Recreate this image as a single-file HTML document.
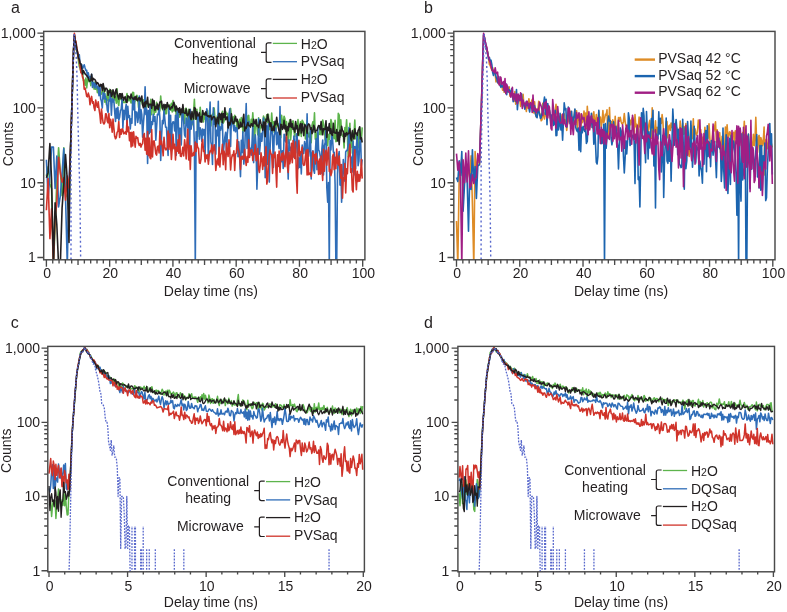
<!DOCTYPE html><html><head><meta charset="utf-8"><style>html,body{margin:0;padding:0;background:#fff;width:787px;height:612px;overflow:hidden}svg text{font-family:"Liberation Sans",sans-serif}</style></head><body><svg width="787" height="612" viewBox="0 0 787 612" style="position:absolute;left:0;top:0;will-change:transform" font-family='"Liberation Sans", sans-serif' fill="#231f20">
<rect width="787" height="612" fill="#fff"/>
<clipPath id="ca"><rect x="43.70" y="31.40" width="321.20" height="228.40"/></clipPath>
<clipPath id="cb"><rect x="453.80" y="31.40" width="321.20" height="228.40"/></clipPath>
<clipPath id="cc"><rect x="47.80" y="346.40" width="316.60" height="225.40"/></clipPath>
<clipPath id="cd"><rect x="457.90" y="346.40" width="316.60" height="225.40"/></clipPath>
<g clip-path="url(#ca)">
<polyline points="46.4,175.8 48.1,166.7 49.9,183.9 51.6,188.7 53.4,265.8 55.1,226.6 56.8,181.0 58.6,147.9 60.3,171.1 62.1,195.7 63.8,147.9 65.5,193.2 67.3,197.8 69.0,212.2 70.2,159.5 71.1,131.6 71.9,105.7 72.7,77.8 73.5,51.2 74.4,35.0 75.2,39.3 76.0,47.4 76.8,52.0 77.7,53.8 78.5,60.9 79.3,66.4 80.1,68.2 80.9,71.8 81.8,72.1 82.6,72.3 83.4,80.6 84.2,80.2 85.1,85.2 85.9,78.0 86.7,87.9 87.5,80.5 88.3,77.2 89.2,81.8 90.0,79.1 90.8,85.6 91.6,79.5 92.5,82.9 93.3,84.7 94.1,89.1 94.9,82.1 95.7,89.3 96.6,86.9 97.4,92.7 98.2,88.6 99.0,86.4 99.9,90.9 100.7,91.3 101.5,94.1 102.3,92.1 103.1,91.5 104.0,87.3 104.8,102.1 105.6,96.8 106.4,104.7 107.3,91.4 108.1,100.5 108.9,96.8 109.7,89.3 110.5,94.7 111.4,90.8 112.2,92.5 113.0,99.2 113.8,92.2 114.7,100.0 115.5,96.8 116.3,103.2 117.1,88.9 117.9,101.8 118.8,105.5 119.6,95.9 120.4,98.3 121.2,99.3 122.1,101.3 122.9,99.8 123.7,102.6 124.5,102.1 125.3,102.6 126.2,97.3 127.0,93.6 127.8,97.4 128.6,100.7 129.5,96.6 130.3,100.9 131.1,103.0 131.9,98.2 132.7,92.4 133.6,92.5 134.4,103.9 135.2,98.9 136.0,100.6 136.9,95.2 137.7,97.8 138.5,107.3 139.3,108.6 140.2,98.2 141.0,100.2 141.8,101.9 142.6,104.6 143.4,99.9 144.3,100.5 145.1,98.4 145.9,107.8 146.7,106.6 147.6,103.8 148.4,105.1 149.2,105.2 150.0,105.1 150.8,99.3 151.7,114.8 152.5,105.6 153.3,102.6 154.1,114.5 155.0,106.4 155.8,112.2 156.6,102.4 157.4,109.6 158.2,109.4 159.1,105.6 159.9,111.0 160.7,96.1 161.5,106.7 162.4,107.7 163.2,110.5 164.0,107.1 164.8,114.5 165.6,109.0 166.5,113.6 167.3,105.9 168.1,105.1 168.9,105.5 169.8,105.1 170.6,110.2 171.4,103.2 172.2,112.0 173.0,100.5 173.9,111.0 174.7,104.2 175.5,108.9 176.3,115.7 177.2,108.4 178.0,110.4 178.8,114.9 179.6,117.1 180.4,112.6 181.3,112.1 182.1,115.9 182.9,119.5 183.7,110.9 184.6,123.4 185.4,108.6 186.2,108.3 187.0,113.6 187.8,121.9 188.7,109.2 189.5,111.3 190.3,112.9 191.1,116.7 192.0,124.7 192.8,121.9 193.6,111.2 194.4,99.3 195.3,119.3 196.1,113.4 196.9,109.3 197.7,136.4 198.5,119.8 199.4,120.1 200.2,107.2 201.0,115.1 201.8,115.8 202.7,116.0 203.5,121.9 204.3,113.4 205.1,119.2 205.9,112.7 206.8,115.5 207.6,110.4 208.4,118.2 209.2,123.5 210.1,122.3 210.9,126.0 211.7,117.0 212.5,114.1 213.3,113.7 214.2,108.0 215.0,119.4 215.8,120.4 216.6,120.7 217.5,115.4 218.3,114.1 219.1,132.6 219.9,114.5 220.7,116.1 221.6,122.3 222.4,111.3 223.2,123.3 224.0,121.2 224.9,117.3 225.7,111.4 226.5,114.2 227.3,113.3 228.1,119.9 229.0,115.9 229.8,111.5 230.6,108.4 231.4,116.7 232.3,123.9 233.1,116.7 233.9,125.5 234.7,115.2 235.5,121.4 236.4,120.8 237.2,129.9 238.0,121.6 238.8,126.8 239.7,119.4 240.5,127.3 241.3,117.5 242.1,119.4 242.9,132.7 243.8,126.3 244.6,126.7 245.4,124.1 246.2,116.6 247.1,127.4 247.9,116.0 248.7,115.4 249.5,125.4 250.4,127.3 251.2,119.4 252.0,125.2 252.8,112.8 253.6,125.5 254.5,143.1 255.3,125.0 256.1,119.4 256.9,126.7 257.8,134.8 258.6,117.8 259.4,136.4 260.2,125.7 261.0,127.8 261.9,126.7 262.7,122.9 263.5,116.1 264.3,118.2 265.2,120.9 266.0,119.9 266.8,114.7 267.6,122.4 268.4,114.4 269.3,128.5 270.1,129.9 270.9,126.7 271.7,113.1 272.6,126.5 273.4,121.9 274.2,132.4 275.0,123.0 275.8,131.1 276.7,123.4 277.5,124.9 278.3,124.1 279.1,130.0 280.0,125.3 280.8,137.6 281.6,115.4 282.4,124.8 283.2,122.0 284.1,116.2 284.9,118.7 285.7,131.3 286.5,121.5 287.4,131.4 288.2,143.1 289.0,124.1 289.8,119.9 290.6,140.0 291.5,129.4 292.3,121.4 293.1,120.9 293.9,130.9 294.8,136.6 295.6,123.1 296.4,126.3 297.2,125.4 298.0,119.6 298.9,135.8 299.7,133.3 300.5,121.7 301.3,136.5 302.2,120.2 303.0,121.6 303.8,124.1 304.6,124.1 305.4,138.9 306.3,130.3 307.1,120.9 307.9,136.7 308.7,133.3 309.6,137.8 310.4,128.5 311.2,142.8 312.0,125.5 312.9,121.7 313.7,128.5 314.5,112.9 315.3,139.3 316.1,132.9 317.0,154.0 317.8,137.3 318.6,133.0 319.4,134.4 320.3,127.5 321.1,134.8 321.9,129.9 322.7,120.0 323.5,124.0 324.4,128.6 325.2,140.0 326.0,131.0 326.8,136.6 327.7,145.7 328.5,134.2 329.3,139.3 330.1,134.2 330.9,119.5 331.8,123.0 332.6,137.8 333.4,136.5 334.2,138.8 335.1,120.2 335.9,141.6 336.7,141.0 337.5,134.8 338.3,113.3 339.2,115.1 340.0,137.1 340.8,119.8 341.6,133.6 342.5,136.1 343.3,135.1 344.1,148.0 344.9,127.5 345.7,132.2 346.6,119.8 347.4,135.9 348.2,156.6 349.0,136.0 349.9,123.3 350.7,153.1 351.5,133.0 352.3,147.4 353.1,130.1 354.0,135.3 354.8,120.1 355.6,138.6 356.4,136.7 357.3,146.8 358.1,148.0 358.9,134.2 359.7,127.6 360.5,142.0 361.4,139.4 362.2,127.4" fill="none" stroke="#5db44c" stroke-width="1.6" stroke-linejoin="round" />
<polyline points="46.4,159.8 48.1,198.4 49.9,174.9 51.6,147.0 53.4,147.1 55.1,188.5 56.8,156.1 58.6,206.9 60.3,196.1 62.1,173.0 63.8,148.6 65.5,195.9 67.3,265.8 69.0,179.5 70.2,156.6 71.1,131.0 71.9,103.9 72.7,78.3 73.5,51.9 74.4,34.6 75.2,41.8 76.0,48.9 76.8,50.3 77.7,54.6 78.5,56.5 79.3,54.8 80.1,65.1 80.9,64.1 81.8,64.7 82.6,68.8 83.4,66.7 84.2,64.8 85.1,67.9 85.9,70.4 86.7,70.3 87.5,77.5 88.3,72.9 89.2,78.3 90.0,76.6 90.8,78.4 91.6,74.4 92.5,87.5 93.3,82.4 94.1,83.3 94.9,87.9 95.7,83.2 96.6,84.7 97.4,88.5 98.2,86.5 99.0,95.7 99.9,86.0 100.7,98.7 101.5,101.6 102.3,108.0 103.1,92.7 104.0,98.6 104.8,93.5 105.6,99.2 106.4,99.1 107.3,109.9 108.1,112.4 108.9,99.7 109.7,101.0 110.5,92.9 111.4,115.2 112.2,98.8 113.0,102.0 113.8,99.6 114.7,112.0 115.5,121.5 116.3,108.2 117.1,118.3 117.9,107.4 118.8,120.2 119.6,117.4 120.4,110.7 121.2,109.3 122.1,99.0 122.9,128.3 123.7,110.2 124.5,119.4 125.3,110.1 126.2,104.4 127.0,123.8 127.8,106.2 128.6,117.4 129.5,115.7 130.3,128.9 131.1,118.8 131.9,123.1 132.7,97.7 133.6,109.7 134.4,97.8 135.2,125.3 136.0,111.9 136.9,112.2 137.7,122.5 138.5,117.1 139.3,96.0 140.2,123.6 141.0,109.6 141.8,114.7 142.6,137.1 143.4,123.6 144.3,112.5 145.1,86.8 145.9,114.6 146.7,109.1 147.6,163.4 148.4,110.5 149.2,133.7 150.0,105.8 150.8,132.2 151.7,121.9 152.5,124.5 153.3,114.3 154.1,121.1 155.0,116.6 155.8,140.3 156.6,127.6 157.4,114.3 158.2,114.6 159.1,107.9 159.9,118.1 160.7,160.5 161.5,137.6 162.4,120.5 163.2,123.8 164.0,109.6 164.8,118.9 165.6,127.2 166.5,127.3 167.3,143.9 168.1,155.5 168.9,108.0 169.8,143.0 170.6,115.2 171.4,150.4 172.2,124.2 173.0,121.8 173.9,122.3 174.7,131.0 175.5,115.2 176.3,155.2 177.2,111.0 178.0,111.8 178.8,139.6 179.6,128.4 180.4,128.3 181.3,144.9 182.1,110.8 182.9,112.7 183.7,122.1 184.6,135.0 185.4,136.9 186.2,118.0 187.0,122.3 187.8,127.9 188.7,115.1 189.5,159.4 190.3,109.4 191.1,129.2 192.0,122.1 192.8,121.9 193.6,120.0 194.4,145.0 195.3,265.8 196.1,131.7 196.9,147.5 197.7,114.9 198.5,115.3 199.4,139.2 200.2,127.7 201.0,129.9 201.8,141.5 202.7,129.1 203.5,135.0 204.3,129.6 205.1,155.3 205.9,116.2 206.8,108.8 207.6,123.0 208.4,161.1 209.2,123.9 210.1,102.0 210.9,142.0 211.7,146.0 212.5,164.5 213.3,107.8 214.2,124.1 215.0,118.6 215.8,154.3 216.6,130.4 217.5,135.7 218.3,101.2 219.1,163.1 219.9,126.7 220.7,130.1 221.6,125.7 222.4,120.9 223.2,153.4 224.0,145.7 224.9,136.9 225.7,132.2 226.5,153.7 227.3,134.7 228.1,126.4 229.0,114.5 229.8,108.9 230.6,146.6 231.4,117.9 232.3,119.3 233.1,124.7 233.9,130.7 234.7,125.5 235.5,131.8 236.4,127.6 237.2,128.5 238.0,156.7 238.8,141.9 239.7,158.5 240.5,176.6 241.3,140.2 242.1,152.5 242.9,131.9 243.8,164.1 244.6,155.0 245.4,128.1 246.2,103.5 247.1,148.4 247.9,138.8 248.7,121.6 249.5,149.3 250.4,148.4 251.2,155.2 252.0,143.4 252.8,124.8 253.6,162.6 254.5,142.0 255.3,134.9 256.1,146.0 256.9,189.3 257.8,163.3 258.6,118.9 259.4,154.3 260.2,145.1 261.0,133.4 261.9,141.3 262.7,130.7 263.5,118.0 264.3,128.0 265.2,177.7 266.0,159.6 266.8,125.7 267.6,164.4 268.4,123.5 269.3,182.1 270.1,148.5 270.9,129.4 271.7,124.5 272.6,136.9 273.4,167.5 274.2,135.7 275.0,131.6 275.8,128.0 276.7,144.6 277.5,132.4 278.3,142.7 279.1,148.7 280.0,106.5 280.8,149.7 281.6,161.7 282.4,150.7 283.2,168.5 284.1,134.2 284.9,135.3 285.7,141.9 286.5,137.5 287.4,152.5 288.2,179.1 289.0,139.9 289.8,150.5 290.6,147.2 291.5,154.4 292.3,145.0 293.1,157.3 293.9,136.1 294.8,146.4 295.6,153.0 296.4,133.7 297.2,136.2 298.0,168.7 298.9,158.1 299.7,167.4 300.5,151.7 301.3,173.9 302.2,145.1 303.0,153.5 303.8,153.4 304.6,141.5 305.4,145.8 306.3,160.0 307.1,113.9 307.9,148.8 308.7,156.1 309.6,147.0 310.4,129.6 311.2,178.9 312.0,154.2 312.9,150.8 313.7,170.0 314.5,173.3 315.3,153.0 316.1,138.7 317.0,169.8 317.8,127.6 318.6,149.9 319.4,151.4 320.3,156.5 321.1,173.5 321.9,148.9 322.7,140.0 323.5,175.0 324.4,145.6 325.2,142.5 326.0,128.9 326.8,187.2 327.7,202.3 328.5,182.5 329.3,265.8 330.1,140.5 330.9,149.9 331.8,133.3 332.6,139.7 333.4,152.2 334.2,152.2 335.1,184.5 335.9,265.8 336.7,265.8 337.5,173.9 338.3,157.0 339.2,151.5 340.0,185.1 340.8,164.8 341.6,202.2 342.5,179.7 343.3,159.5 344.1,170.4 344.9,181.1 345.7,152.0 346.6,150.4 347.4,150.5 348.2,142.9 349.0,127.6 349.9,152.2 350.7,158.1 351.5,157.3 352.3,171.9 353.1,141.0 354.0,175.0 354.8,146.6 355.6,168.6 356.4,145.7 357.3,134.2 358.1,165.7 358.9,161.1 359.7,142.8 360.5,136.8 361.4,165.5 362.2,159.3" fill="none" stroke="#2f6db8" stroke-width="1.6" stroke-linejoin="round" />
<polyline points="46.4,210.2 48.1,178.6 49.9,238.6 51.6,208.8 53.4,265.8 55.1,216.0 56.8,204.3 58.6,157.2 60.3,172.5 62.1,182.2 63.8,177.7 65.5,200.1 67.3,176.0 69.0,188.5 70.2,159.3 71.1,131.7 71.9,104.7 72.7,77.6 73.5,51.4 74.4,33.3 75.2,39.7 76.0,41.6 76.8,47.6 77.7,52.3 78.5,58.3 79.3,60.6 80.1,66.1 80.9,72.7 81.8,73.1 82.6,77.3 83.4,79.0 84.2,89.2 85.1,88.1 85.9,91.8 86.7,96.4 87.5,96.9 88.3,93.1 89.2,96.2 90.0,104.8 90.8,99.5 91.6,96.4 92.5,103.2 93.3,101.8 94.1,107.8 94.9,110.4 95.7,100.1 96.6,105.0 97.4,107.2 98.2,101.9 99.0,109.0 99.9,114.7 100.7,123.1 101.5,109.0 102.3,116.8 103.1,122.5 104.0,124.0 104.8,122.3 105.6,113.8 106.4,114.1 107.3,121.2 108.1,122.8 108.9,113.5 109.7,127.8 110.5,119.2 111.4,123.6 112.2,132.1 113.0,119.0 113.8,127.4 114.7,136.3 115.5,138.8 116.3,137.5 117.1,132.4 117.9,131.2 118.8,121.6 119.6,137.5 120.4,129.5 121.2,134.2 122.1,128.9 122.9,129.8 123.7,133.8 124.5,133.1 125.3,131.8 126.2,134.2 127.0,120.6 127.8,131.8 128.6,127.1 129.5,140.7 130.3,132.5 131.1,147.0 131.9,132.4 132.7,146.0 133.6,131.9 134.4,140.7 135.2,147.2 136.0,136.3 136.9,138.1 137.7,137.7 138.5,143.3 139.3,145.5 140.2,143.4 141.0,147.1 141.8,144.5 142.6,143.7 143.4,135.5 144.3,133.5 145.1,150.2 145.9,138.4 146.7,154.1 147.6,131.5 148.4,155.8 149.2,138.1 150.0,157.8 150.8,158.7 151.7,129.6 152.5,156.9 153.3,141.6 154.1,140.8 155.0,146.8 155.8,153.6 156.6,155.1 157.4,147.1 158.2,146.1 159.1,152.9 159.9,131.3 160.7,144.4 161.5,141.0 162.4,147.4 163.2,155.8 164.0,137.3 164.8,146.9 165.6,149.8 166.5,149.6 167.3,147.0 168.1,131.1 168.9,149.5 169.8,134.0 170.6,145.5 171.4,159.4 172.2,148.6 173.0,134.3 173.9,148.6 174.7,144.2 175.5,159.9 176.3,147.1 177.2,151.3 178.0,139.8 178.8,153.2 179.6,135.1 180.4,156.0 181.3,156.5 182.1,152.4 182.9,147.2 183.7,155.9 184.6,139.7 185.4,147.2 186.2,159.0 187.0,142.0 187.8,129.1 188.7,159.9 189.5,145.6 190.3,169.4 191.1,145.8 192.0,155.9 192.8,155.7 193.6,152.6 194.4,155.2 195.3,142.0 196.1,151.5 196.9,143.5 197.7,147.5 198.5,148.3 199.4,163.0 200.2,163.4 201.0,159.0 201.8,144.7 202.7,139.2 203.5,151.4 204.3,150.6 205.1,162.0 205.9,154.7 206.8,158.4 207.6,154.9 208.4,164.1 209.2,155.0 210.1,150.9 210.9,151.7 211.7,145.1 212.5,153.8 213.3,150.0 214.2,144.7 215.0,151.2 215.8,170.5 216.6,162.9 217.5,159.0 218.3,165.0 219.1,147.3 219.9,167.0 220.7,154.5 221.6,153.0 222.4,144.2 223.2,164.8 224.0,151.0 224.9,155.5 225.7,169.7 226.5,143.3 227.3,151.7 228.1,156.5 229.0,139.9 229.8,151.6 230.6,170.0 231.4,159.4 232.3,154.7 233.1,155.7 233.9,150.7 234.7,170.4 235.5,154.4 236.4,152.9 237.2,139.8 238.0,148.5 238.8,150.8 239.7,157.3 240.5,169.4 241.3,157.1 242.1,156.2 242.9,159.3 243.8,157.6 244.6,149.3 245.4,158.3 246.2,165.4 247.1,156.5 247.9,162.1 248.7,139.9 249.5,157.5 250.4,151.8 251.2,149.7 252.0,149.8 252.8,160.5 253.6,153.0 254.5,154.2 255.3,144.5 256.1,160.8 256.9,157.8 257.8,148.6 258.6,169.0 259.4,172.4 260.2,165.5 261.0,152.8 261.9,159.6 262.7,169.5 263.5,156.9 264.3,165.9 265.2,157.3 266.0,146.7 266.8,184.1 267.6,180.3 268.4,166.2 269.3,154.9 270.1,150.0 270.9,153.9 271.7,154.2 272.6,173.4 273.4,154.5 274.2,157.6 275.0,152.1 275.8,167.8 276.7,187.1 277.5,154.9 278.3,166.5 279.1,151.1 280.0,172.1 280.8,158.1 281.6,153.8 282.4,160.2 283.2,152.3 284.1,155.9 284.9,166.6 285.7,156.2 286.5,133.9 287.4,166.3 288.2,172.5 289.0,152.3 289.8,163.7 290.6,158.8 291.5,143.2 292.3,162.7 293.1,140.6 293.9,155.3 294.8,158.5 295.6,142.0 296.4,177.3 297.2,193.3 298.0,152.6 298.9,140.2 299.7,155.9 300.5,152.5 301.3,152.4 302.2,147.1 303.0,163.6 303.8,165.3 304.6,164.9 305.4,156.3 306.3,150.0 307.1,175.0 307.9,149.5 308.7,174.8 309.6,173.9 310.4,172.8 311.2,176.4 312.0,167.7 312.9,151.2 313.7,156.3 314.5,154.7 315.3,164.0 316.1,153.6 317.0,160.4 317.8,161.1 318.6,174.5 319.4,159.1 320.3,174.2 321.1,156.1 321.9,168.5 322.7,180.4 323.5,149.3 324.4,171.2 325.2,155.7 326.0,150.3 326.8,165.1 327.7,153.9 328.5,147.2 329.3,171.5 330.1,169.4 330.9,175.6 331.8,172.1 332.6,156.2 333.4,154.0 334.2,169.6 335.1,157.3 335.9,168.7 336.7,149.1 337.5,162.6 338.3,165.1 339.2,156.0 340.0,168.2 340.8,178.1 341.6,164.5 342.5,198.1 343.3,177.9 344.1,178.9 344.9,163.6 345.7,192.9 346.6,168.7 347.4,173.7 348.2,157.5 349.0,154.7 349.9,144.3 350.7,172.5 351.5,168.8 352.3,189.9 353.1,192.0 354.0,163.7 354.8,149.9 355.6,176.6 356.4,189.8 357.3,171.4 358.1,181.4 358.9,174.6 359.7,181.2 360.5,175.2 361.4,159.4 362.2,178.6" fill="none" stroke="#d0332a" stroke-width="1.6" stroke-linejoin="round" />
<polyline points="46.4,177.8 48.1,172.4 49.9,143.5 51.6,180.2 53.4,265.8 55.1,202.9 56.8,224.2 58.6,265.8 60.3,265.8 62.1,207.6 63.8,184.3 65.5,154.6 67.3,180.1 69.0,242.5 70.2,158.3 71.1,131.9 71.9,103.9 72.7,79.2 73.5,50.9 74.4,35.5 75.2,40.6 76.0,44.2 76.8,48.7 77.7,52.8 78.5,58.4 79.3,59.3 80.1,63.3 80.9,63.9 81.8,68.5 82.6,74.0 83.4,70.5 84.2,72.1 85.1,73.9 85.9,74.7 86.7,75.5 87.5,76.8 88.3,77.7 89.2,80.9 90.0,81.2 90.8,80.5 91.6,74.3 92.5,80.9 93.3,78.4 94.1,79.3 94.9,79.5 95.7,81.1 96.6,83.9 97.4,82.7 98.2,83.3 99.0,85.5 99.9,86.5 100.7,84.4 101.5,84.7 102.3,90.6 103.1,83.5 104.0,88.1 104.8,91.4 105.6,88.4 106.4,88.2 107.3,89.7 108.1,95.3 108.9,90.9 109.7,92.4 110.5,89.9 111.4,96.7 112.2,94.7 113.0,89.8 113.8,93.5 114.7,97.6 115.5,91.4 116.3,89.1 117.1,93.3 117.9,96.2 118.8,99.1 119.6,93.7 120.4,93.9 121.2,98.8 122.1,93.5 122.9,97.4 123.7,100.3 124.5,97.3 125.3,96.9 126.2,101.9 127.0,102.5 127.8,95.8 128.6,96.6 129.5,97.1 130.3,98.8 131.1,94.1 131.9,97.7 132.7,98.3 133.6,99.6 134.4,97.0 135.2,99.3 136.0,96.3 136.9,100.0 137.7,100.8 138.5,98.1 139.3,97.6 140.2,100.9 141.0,98.8 141.8,96.1 142.6,104.9 143.4,107.7 144.3,102.3 145.1,106.7 145.9,101.2 146.7,103.7 147.6,97.3 148.4,107.3 149.2,104.3 150.0,104.2 150.8,104.3 151.7,108.2 152.5,99.3 153.3,105.5 154.1,100.7 155.0,110.4 155.8,106.5 156.6,108.5 157.4,104.0 158.2,109.5 159.1,105.5 159.9,102.0 160.7,101.8 161.5,101.2 162.4,109.0 163.2,105.7 164.0,104.4 164.8,109.7 165.6,104.8 166.5,107.9 167.3,102.6 168.1,106.7 168.9,105.5 169.8,109.1 170.6,108.9 171.4,106.7 172.2,107.8 173.0,104.9 173.9,102.2 174.7,106.7 175.5,111.0 176.3,106.1 177.2,109.7 178.0,108.7 178.8,112.1 179.6,107.7 180.4,114.7 181.3,109.0 182.1,112.7 182.9,104.5 183.7,112.5 184.6,113.2 185.4,113.4 186.2,109.0 187.0,115.3 187.8,115.7 188.7,113.0 189.5,109.6 190.3,117.1 191.1,119.5 192.0,111.5 192.8,116.6 193.6,118.9 194.4,107.5 195.3,108.6 196.1,119.2 196.9,111.9 197.7,115.6 198.5,115.8 199.4,112.8 200.2,121.9 201.0,116.8 201.8,122.1 202.7,110.5 203.5,114.4 204.3,113.4 205.1,115.1 205.9,111.8 206.8,115.2 207.6,116.2 208.4,115.8 209.2,117.0 210.1,115.8 210.9,115.4 211.7,119.8 212.5,118.3 213.3,116.7 214.2,116.7 215.0,118.1 215.8,126.7 216.6,120.2 217.5,117.3 218.3,123.8 219.1,113.4 219.9,114.1 220.7,119.5 221.6,113.4 222.4,122.6 223.2,113.8 224.0,117.5 224.9,107.7 225.7,119.7 226.5,117.5 227.3,117.0 228.1,128.0 229.0,122.4 229.8,125.0 230.6,122.8 231.4,113.9 232.3,120.9 233.1,123.5 233.9,123.0 234.7,119.4 235.5,116.5 236.4,121.5 237.2,119.2 238.0,122.8 238.8,128.6 239.7,127.0 240.5,122.4 241.3,126.5 242.1,126.7 242.9,119.9 243.8,114.2 244.6,131.0 245.4,127.2 246.2,128.3 247.1,124.7 247.9,122.6 248.7,125.6 249.5,125.6 250.4,126.8 251.2,123.7 252.0,124.2 252.8,126.3 253.6,119.3 254.5,123.0 255.3,124.0 256.1,119.7 256.9,125.9 257.8,125.4 258.6,127.6 259.4,122.8 260.2,119.8 261.0,123.7 261.9,126.1 262.7,130.2 263.5,122.1 264.3,122.1 265.2,136.7 266.0,119.3 266.8,121.1 267.6,114.3 268.4,118.6 269.3,122.2 270.1,126.5 270.9,122.7 271.7,130.4 272.6,130.4 273.4,126.4 274.2,130.7 275.0,121.2 275.8,124.7 276.7,117.3 277.5,123.8 278.3,127.1 279.1,131.3 280.0,134.6 280.8,124.4 281.6,124.8 282.4,129.4 283.2,128.0 284.1,120.4 284.9,128.9 285.7,125.4 286.5,134.9 287.4,126.9 288.2,130.7 289.0,123.2 289.8,126.7 290.6,119.5 291.5,127.4 292.3,123.7 293.1,129.3 293.9,128.1 294.8,132.1 295.6,121.6 296.4,128.6 297.2,125.5 298.0,135.3 298.9,131.2 299.7,125.8 300.5,123.6 301.3,133.0 302.2,123.9 303.0,129.3 303.8,135.7 304.6,124.7 305.4,125.1 306.3,127.6 307.1,133.4 307.9,125.2 308.7,123.9 309.6,125.0 310.4,129.2 311.2,127.8 312.0,133.7 312.9,131.9 313.7,125.2 314.5,127.6 315.3,132.3 316.1,130.5 317.0,130.4 317.8,127.8 318.6,125.6 319.4,125.7 320.3,129.7 321.1,121.5 321.9,128.9 322.7,134.8 323.5,128.6 324.4,129.6 325.2,129.3 326.0,120.8 326.8,137.4 327.7,127.4 328.5,130.5 329.3,123.6 330.1,133.4 330.9,128.8 331.8,134.9 332.6,135.3 333.4,123.3 334.2,132.5 335.1,133.0 335.9,133.1 336.7,129.6 337.5,141.0 338.3,132.3 339.2,144.7 340.0,130.2 340.8,135.1 341.6,126.4 342.5,130.8 343.3,131.3 344.1,141.9 344.9,133.2 345.7,136.2 346.6,132.6 347.4,134.7 348.2,133.5 349.0,133.2 349.9,128.8 350.7,138.5 351.5,140.8 352.3,130.9 353.1,135.9 354.0,139.0 354.8,128.8 355.6,133.7 356.4,133.0 357.3,135.4 358.1,130.6 358.9,129.0 359.7,126.8 360.5,138.9 361.4,137.9 362.2,142.5" fill="none" stroke="#231f20" stroke-width="1.6" stroke-linejoin="round" />
<polyline points="71.0,264.0 71.0,170.0 71.9,110.0 74.1,34.0 76.3,58.0 77.1,79.0 77.7,110.0 80.0,200.0 80.7,264.0" fill="none" stroke="#5868cc" stroke-width="1.4" stroke-dasharray="2,2.6"/>
</g>
<g clip-path="url(#cb)">
<polyline points="456.5,221.0 457.8,265.8 459.2,175.6 460.5,168.5 461.8,158.4 463.1,196.0 464.5,180.6 465.8,166.8 467.1,169.2 468.5,172.1 469.8,177.7 471.1,155.8 472.4,203.9 473.8,265.8 475.1,151.6 476.4,171.4 477.8,158.1 479.5,165.0 480.3,138.9 481.2,113.1 482.0,82.6 482.8,57.7 483.6,35.3 484.5,37.3 485.3,42.8 486.1,46.9 486.9,51.8 487.8,52.1 488.6,58.7 489.4,64.5 490.2,65.4 491.0,67.9 491.9,70.2 492.7,67.8 493.5,71.6 494.3,72.3 495.2,74.3 496.0,81.9 496.8,80.6 497.6,80.0 498.4,83.7 499.3,80.9 500.1,85.4 500.9,82.0 501.7,85.1 502.6,90.1 503.4,85.7 504.2,92.3 505.0,88.6 505.8,91.1 506.7,91.6 507.5,89.8 508.3,90.2 509.1,86.9 510.0,96.2 510.8,95.3 511.6,92.6 512.4,96.3 513.2,97.6 514.1,101.2 514.9,91.5 515.7,104.2 516.5,97.9 517.4,102.8 518.2,97.5 519.0,95.6 519.8,99.3 520.6,106.4 521.5,98.5 522.3,100.9 523.1,94.2 523.9,105.9 524.8,105.4 525.6,107.3 526.4,111.5 527.2,102.1 528.0,108.0 528.9,98.7 529.7,105.4 530.5,103.7 531.3,102.0 532.2,99.4 533.0,105.2 533.8,112.9 534.6,101.7 535.4,113.4 536.3,116.9 537.1,110.9 537.9,110.2 538.7,101.2 539.6,115.3 540.4,114.4 541.2,120.8 542.0,119.7 542.8,103.4 543.7,116.6 544.5,119.0 545.3,112.2 546.1,115.7 547.0,114.4 547.8,115.7 548.6,114.4 549.4,110.2 550.3,118.1 551.1,115.8 551.9,119.3 552.7,115.5 553.5,119.9 554.4,111.6 555.2,111.3 556.0,104.3 556.8,114.0 557.7,114.5 558.5,121.6 559.3,116.7 560.1,121.1 560.9,114.5 561.8,120.4 562.6,128.0 563.4,115.1 564.2,113.9 565.1,121.5 565.9,120.3 566.7,130.4 567.5,123.5 568.3,121.1 569.2,110.4 570.0,119.7 570.8,111.3 571.6,118.1 572.5,117.3 573.3,125.0 574.1,116.9 574.9,109.6 575.7,122.4 576.6,110.9 577.4,130.6 578.2,117.0 579.0,120.2 579.9,113.7 580.7,135.6 581.5,114.8 582.3,122.7 583.1,121.1 584.0,111.0 584.8,120.9 585.6,113.1 586.4,128.5 587.3,106.3 588.1,118.8 588.9,120.0 589.7,121.0 590.5,117.2 591.4,116.6 592.2,127.8 593.0,114.6 593.8,111.8 594.7,122.4 595.5,122.9 596.3,114.5 597.1,123.3 597.9,121.7 598.8,111.4 599.6,118.6 600.4,117.1 601.2,126.6 602.1,121.9 602.9,110.5 603.7,122.8 604.5,119.7 605.4,114.3 606.2,115.2 607.0,109.8 607.8,138.4 608.6,133.9 609.5,107.6 610.3,129.5 611.1,121.6 611.9,126.9 612.8,119.9 613.6,123.1 614.4,132.8 615.2,116.3 616.0,131.5 616.9,130.5 617.7,127.1 618.5,117.5 619.3,121.3 620.2,117.2 621.0,121.2 621.8,123.5 622.6,124.1 623.4,121.9 624.3,113.5 625.1,121.3 625.9,125.9 626.7,125.3 627.6,125.8 628.4,132.7 629.2,132.2 630.0,120.1 630.8,124.8 631.7,119.4 632.5,117.3 633.3,122.8 634.1,135.6 635.0,114.6 635.8,126.6 636.6,124.2 637.4,143.7 638.2,128.8 639.1,117.1 639.9,127.0 640.7,119.9 641.5,124.5 642.4,123.0 643.2,121.1 644.0,130.0 644.8,122.4 645.6,129.4 646.5,125.7 647.3,131.1 648.1,131.9 648.9,124.4 649.8,120.2 650.6,131.5 651.4,138.3 652.2,107.8 653.0,130.0 653.9,132.4 654.7,129.5 655.5,120.7 656.3,137.4 657.2,127.3 658.0,133.9 658.8,133.3 659.6,120.4 660.5,119.9 661.3,123.4 662.1,114.6 662.9,121.5 663.7,136.8 664.6,134.0 665.4,134.7 666.2,121.8 667.0,121.6 667.9,138.0 668.7,126.4 669.5,125.1 670.3,130.5 671.1,123.0 672.0,127.5 672.8,122.4 673.6,127.7 674.4,131.9 675.3,127.4 676.1,138.7 676.9,128.0 677.7,144.4 678.5,133.7 679.4,135.2 680.2,121.0 681.0,135.3 681.8,134.2 682.7,123.1 683.5,134.2 684.3,126.5 685.1,134.2 685.9,123.6 686.8,138.1 687.6,154.2 688.4,146.7 689.2,156.4 690.1,138.4 690.9,125.3 691.7,134.3 692.5,138.6 693.3,118.7 694.2,139.6 695.0,128.8 695.8,132.5 696.6,135.1 697.5,131.9 698.3,120.1 699.1,123.4 699.9,132.4 700.7,129.6 701.6,138.0 702.4,143.7 703.2,137.1 704.0,145.1 704.9,127.2 705.7,140.8 706.5,146.7 707.3,131.3 708.1,138.1 709.0,123.7 709.8,137.2 710.6,151.2 711.4,148.3 712.3,136.8 713.1,126.5 713.9,131.0 714.7,126.3 715.5,121.9 716.4,142.3 717.2,129.9 718.0,142.0 718.8,134.9 719.7,132.7 720.5,152.5 721.3,147.7 722.1,136.4 723.0,144.2 723.8,161.1 724.6,150.3 725.4,127.0 726.2,141.1 727.1,124.9 727.9,137.4 728.7,136.4 729.5,131.9 730.4,132.2 731.2,142.2 732.0,133.6 732.8,134.0 733.6,132.3 734.5,149.6 735.3,130.8 736.1,133.1 736.9,130.4 737.8,131.2 738.6,134.8 739.4,139.3 740.2,140.0 741.0,139.7 741.9,150.3 742.7,132.5 743.5,135.2 744.3,121.4 745.2,138.7 746.0,139.7 746.8,136.3 747.6,138.5 748.4,134.3 749.3,148.7 750.1,150.8 750.9,141.6 751.7,147.6 752.6,145.3 753.4,134.3 754.2,145.7 755.0,140.3 755.8,117.2 756.7,143.2 757.5,152.4 758.3,136.9 759.1,135.4 760.0,158.6 760.8,137.5 761.6,140.4 762.4,145.6 763.2,141.8 764.1,127.0 764.9,175.1 765.7,140.2 766.5,139.0 767.4,148.8 768.2,148.0 769.0,134.6 769.8,131.2 770.6,142.8 771.5,143.8 772.3,147.5" fill="none" stroke="#de8c26" stroke-width="1.6" stroke-linejoin="round" />
<polyline points="456.5,177.6 457.8,181.5 459.2,160.7 460.5,175.6 461.8,151.5 463.1,211.1 464.5,185.0 465.8,165.0 467.1,177.9 468.5,231.2 469.8,173.7 471.1,189.5 472.4,149.9 473.8,181.9 475.1,166.6 476.4,198.4 477.8,166.3 479.5,164.2 480.3,139.4 481.2,111.9 482.0,86.0 482.8,58.5 483.6,34.7 484.5,37.7 485.3,42.2 486.1,46.8 486.9,49.2 487.8,53.4 488.6,59.4 489.4,57.5 490.2,61.5 491.0,60.1 491.9,65.0 492.7,72.6 493.5,75.5 494.3,70.7 495.2,71.6 496.0,76.6 496.8,78.6 497.6,82.7 498.4,76.3 499.3,81.1 500.1,85.4 500.9,87.3 501.7,84.9 502.6,86.9 503.4,85.8 504.2,89.4 505.0,91.6 505.8,83.5 506.7,94.8 507.5,86.2 508.3,91.9 509.1,89.7 510.0,91.2 510.8,93.5 511.6,88.9 512.4,93.9 513.2,101.6 514.1,97.2 514.9,95.7 515.7,101.4 516.5,89.6 517.4,109.7 518.2,99.9 519.0,95.6 519.8,97.7 520.6,100.0 521.5,93.7 522.3,105.0 523.1,103.8 523.9,104.6 524.8,109.1 525.6,105.1 526.4,101.4 527.2,105.4 528.0,103.6 528.9,108.4 529.7,112.0 530.5,103.5 531.3,107.5 532.2,107.6 533.0,99.7 533.8,111.2 534.6,105.8 535.4,113.7 536.3,116.8 537.1,117.6 537.9,110.9 538.7,110.6 539.6,114.0 540.4,118.4 541.2,117.6 542.0,113.2 542.8,109.0 543.7,102.8 544.5,97.1 545.3,114.1 546.1,99.3 547.0,124.6 547.8,103.5 548.6,112.2 549.4,109.9 550.3,115.0 551.1,125.2 551.9,114.8 552.7,117.0 553.5,125.5 554.4,123.7 555.2,110.2 556.0,135.6 556.8,135.5 557.7,115.5 558.5,129.9 559.3,125.2 560.1,113.3 560.9,130.0 561.8,123.4 562.6,140.3 563.4,122.7 564.2,102.9 565.1,109.7 565.9,108.7 566.7,127.1 567.5,120.3 568.3,107.1 569.2,112.8 570.0,123.7 570.8,120.6 571.6,111.4 572.5,126.2 573.3,118.6 574.1,116.1 574.9,109.0 575.7,127.2 576.6,130.3 577.4,131.6 578.2,128.0 579.0,150.2 579.9,119.9 580.7,151.7 581.5,127.3 582.3,132.8 583.1,126.3 584.0,129.5 584.8,131.5 585.6,128.4 586.4,143.5 587.3,141.3 588.1,120.1 588.9,117.3 589.7,124.0 590.5,124.0 591.4,113.4 592.2,127.5 593.0,122.1 593.8,144.3 594.7,123.9 595.5,143.3 596.3,162.1 597.1,164.0 597.9,156.2 598.8,110.3 599.6,131.9 600.4,136.1 601.2,143.7 602.1,130.2 602.9,143.5 603.7,124.2 604.5,265.8 605.4,123.5 606.2,148.2 607.0,135.9 607.8,121.6 608.6,116.0 609.5,121.2 610.3,120.7 611.1,137.7 611.9,144.8 612.8,139.6 613.6,121.8 614.4,135.1 615.2,128.5 616.0,126.3 616.9,139.3 617.7,145.9 618.5,168.9 619.3,144.3 620.2,127.9 621.0,130.4 621.8,144.5 622.6,131.1 623.4,155.0 624.3,173.0 625.1,158.3 625.9,140.7 626.7,154.0 627.6,140.6 628.4,112.9 629.2,118.1 630.0,145.5 630.8,144.2 631.7,138.9 632.5,135.3 633.3,135.4 634.1,141.5 635.0,183.6 635.8,135.2 636.6,140.0 637.4,128.4 638.2,179.6 639.1,177.1 639.9,207.0 640.7,160.6 641.5,112.7 642.4,135.4 643.2,108.4 644.0,115.9 644.8,142.5 645.6,162.6 646.5,111.5 647.3,130.0 648.1,158.9 648.9,131.9 649.8,147.9 650.6,134.2 651.4,118.6 652.2,127.6 653.0,110.3 653.9,165.9 654.7,140.4 655.5,208.0 656.3,134.1 657.2,140.1 658.0,138.7 658.8,111.8 659.6,133.9 660.5,118.3 661.3,171.9 662.1,149.0 662.9,135.3 663.7,197.4 664.6,157.2 665.4,142.4 666.2,118.0 667.0,161.0 667.9,163.3 668.7,142.3 669.5,161.2 670.3,140.5 671.1,181.3 672.0,143.0 672.8,109.0 673.6,124.3 674.4,145.1 675.3,127.5 676.1,119.6 676.9,128.8 677.7,154.8 678.5,129.3 679.4,164.2 680.2,165.2 681.0,167.6 681.8,166.9 682.7,119.3 683.5,158.0 684.3,189.3 685.1,127.8 685.9,168.6 686.8,160.6 687.6,121.5 688.4,135.9 689.2,143.9 690.1,147.5 690.9,121.1 691.7,147.3 692.5,167.2 693.3,154.5 694.2,126.2 695.0,145.0 695.8,162.9 696.6,145.8 697.5,149.7 698.3,147.8 699.1,176.0 699.9,161.1 700.7,167.0 701.6,170.9 702.4,183.2 703.2,150.3 704.0,164.2 704.9,136.8 705.7,130.6 706.5,171.8 707.3,125.7 708.1,156.5 709.0,141.7 709.8,144.3 710.6,166.6 711.4,140.5 712.3,146.7 713.1,155.1 713.9,144.6 714.7,141.6 715.5,156.9 716.4,177.6 717.2,147.0 718.0,145.2 718.8,138.1 719.7,148.6 720.5,148.1 721.3,181.5 722.1,169.8 723.0,128.0 723.8,171.2 724.6,187.9 725.4,154.2 726.2,134.7 727.1,150.6 727.9,193.4 728.7,172.0 729.5,138.4 730.4,184.4 731.2,135.4 732.0,154.8 732.8,148.4 733.6,141.1 734.5,147.9 735.3,159.5 736.1,174.7 736.9,215.3 737.8,158.7 738.6,265.8 739.4,134.7 740.2,181.6 741.0,201.1 741.9,133.7 742.7,179.9 743.5,171.9 744.3,168.1 745.2,134.6 746.0,265.8 746.8,265.8 747.6,160.4 748.4,134.1 749.3,146.6 750.1,188.4 750.9,148.4 751.7,169.2 752.6,147.7 753.4,157.4 754.2,171.8 755.0,160.9 755.8,151.7 756.7,134.6 757.5,176.9 758.3,169.4 759.1,187.9 760.0,145.5 760.8,190.2 761.6,145.5 762.4,189.9 763.2,155.9 764.1,167.3 764.9,143.1 765.7,200.6 766.5,197.7 767.4,167.4 768.2,152.0 769.0,137.2 769.8,123.5 770.6,151.6 771.5,133.8 772.3,174.6" fill="none" stroke="#1b64af" stroke-width="1.6" stroke-linejoin="round" />
<polyline points="456.5,153.6 457.8,170.3 459.2,161.7 460.5,182.3 461.8,265.8 463.1,159.7 464.5,182.8 465.8,153.0 467.1,182.0 468.5,150.9 469.8,187.7 471.1,185.7 472.4,174.7 473.8,183.5 475.1,178.8 476.4,177.4 477.8,153.6 479.5,162.7 480.3,137.9 481.2,111.7 482.0,86.9 482.8,57.9 483.6,33.2 484.5,37.8 485.3,41.7 486.1,45.2 486.9,47.2 487.8,54.7 488.6,57.1 489.4,60.2 490.2,62.4 491.0,65.9 491.9,69.5 492.7,71.2 493.5,70.4 494.3,72.8 495.2,67.7 496.0,72.7 496.8,73.7 497.6,72.1 498.4,82.7 499.3,84.9 500.1,76.9 500.9,77.4 501.7,84.4 502.6,83.5 503.4,81.6 504.2,90.8 505.0,78.6 505.8,93.6 506.7,84.3 507.5,87.1 508.3,91.7 509.1,91.5 510.0,93.1 510.8,97.2 511.6,94.4 512.4,87.2 513.2,100.0 514.1,93.7 514.9,95.4 515.7,100.6 516.5,94.0 517.4,103.7 518.2,94.1 519.0,97.3 519.8,100.6 520.6,92.8 521.5,99.3 522.3,108.4 523.1,100.0 523.9,103.6 524.8,103.3 525.6,107.7 526.4,101.9 527.2,101.3 528.0,103.9 528.9,108.3 529.7,104.2 530.5,102.7 531.3,103.3 532.2,112.5 533.0,95.0 533.8,108.6 534.6,110.3 535.4,108.2 536.3,112.6 537.1,109.0 537.9,110.7 538.7,109.2 539.6,102.0 540.4,104.4 541.2,106.4 542.0,109.7 542.8,115.4 543.7,106.9 544.5,102.9 545.3,108.5 546.1,101.3 547.0,117.8 547.8,117.9 548.6,105.5 549.4,107.2 550.3,119.3 551.1,128.7 551.9,130.0 552.7,99.5 553.5,108.9 554.4,120.6 555.2,114.1 556.0,128.2 556.8,118.8 557.7,106.5 558.5,115.2 559.3,120.6 560.1,122.5 560.9,123.2 561.8,122.6 562.6,114.0 563.4,124.2 564.2,119.5 565.1,123.6 565.9,126.5 566.7,126.6 567.5,123.6 568.3,108.2 569.2,108.1 570.0,114.3 570.8,134.5 571.6,117.4 572.5,127.2 573.3,134.7 574.1,122.8 574.9,120.7 575.7,124.8 576.6,112.5 577.4,118.1 578.2,117.0 579.0,112.7 579.9,130.8 580.7,125.4 581.5,113.8 582.3,118.5 583.1,119.1 584.0,117.4 584.8,126.8 585.6,129.8 586.4,122.0 587.3,116.1 588.1,134.6 588.9,111.7 589.7,129.9 590.5,123.3 591.4,115.9 592.2,122.6 593.0,119.2 593.8,131.6 594.7,120.4 595.5,125.2 596.3,122.8 597.1,134.0 597.9,117.9 598.8,134.4 599.6,129.7 600.4,143.4 601.2,127.2 602.1,136.3 602.9,129.6 603.7,143.9 604.5,131.2 605.4,138.4 606.2,144.2 607.0,133.1 607.8,136.1 608.6,138.1 609.5,139.3 610.3,125.1 611.1,125.5 611.9,124.1 612.8,141.1 613.6,124.5 614.4,138.6 615.2,126.5 616.0,134.2 616.9,147.1 617.7,135.2 618.5,120.2 619.3,139.9 620.2,139.1 621.0,137.0 621.8,151.2 622.6,124.8 623.4,135.9 624.3,148.5 625.1,135.5 625.9,127.9 626.7,125.3 627.6,139.4 628.4,130.2 629.2,136.7 630.0,136.5 630.8,130.6 631.7,144.3 632.5,115.2 633.3,120.6 634.1,139.3 635.0,134.3 635.8,143.0 636.6,130.9 637.4,125.3 638.2,137.7 639.1,165.1 639.9,135.4 640.7,117.9 641.5,132.2 642.4,138.4 643.2,136.0 644.0,140.2 644.8,153.4 645.6,123.3 646.5,141.6 647.3,135.0 648.1,137.0 648.9,135.1 649.8,138.4 650.6,138.4 651.4,147.3 652.2,153.9 653.0,131.1 653.9,155.3 654.7,143.8 655.5,129.9 656.3,144.6 657.2,136.4 658.0,142.8 658.8,169.4 659.6,179.8 660.5,141.8 661.3,154.6 662.1,155.9 662.9,137.6 663.7,128.8 664.6,145.0 665.4,136.2 666.2,140.6 667.0,146.3 667.9,150.0 668.7,141.1 669.5,134.7 670.3,143.2 671.1,150.5 672.0,161.4 672.8,148.2 673.6,143.1 674.4,123.9 675.3,127.8 676.1,147.2 676.9,139.5 677.7,144.8 678.5,168.0 679.4,148.7 680.2,127.9 681.0,158.1 681.8,128.9 682.7,144.9 683.5,186.8 684.3,159.5 685.1,161.8 685.9,125.6 686.8,150.3 687.6,155.4 688.4,136.6 689.2,149.3 690.1,148.3 690.9,152.6 691.7,160.7 692.5,143.3 693.3,145.7 694.2,141.1 695.0,164.2 695.8,146.1 696.6,139.2 697.5,135.5 698.3,153.3 699.1,164.3 699.9,119.9 700.7,148.9 701.6,134.1 702.4,166.3 703.2,157.8 704.0,133.6 704.9,149.1 705.7,142.5 706.5,143.0 707.3,139.6 708.1,142.6 709.0,144.4 709.8,157.8 710.6,149.0 711.4,151.0 712.3,150.3 713.1,124.0 713.9,140.7 714.7,149.4 715.5,151.9 716.4,161.4 717.2,131.1 718.0,132.0 718.8,147.1 719.7,141.0 720.5,144.2 721.3,158.4 722.1,159.8 723.0,145.5 723.8,155.3 724.6,151.6 725.4,165.7 726.2,190.4 727.1,151.4 727.9,137.3 728.7,154.4 729.5,168.9 730.4,162.5 731.2,172.7 732.0,130.5 732.8,158.2 733.6,170.8 734.5,181.2 735.3,145.5 736.1,139.9 736.9,125.9 737.8,183.3 738.6,126.3 739.4,145.8 740.2,128.1 741.0,138.4 741.9,157.3 742.7,162.2 743.5,127.2 744.3,178.7 745.2,141.5 746.0,125.7 746.8,167.2 747.6,136.3 748.4,158.3 749.3,168.5 750.1,191.6 750.9,120.2 751.7,168.7 752.6,147.3 753.4,150.4 754.2,182.4 755.0,180.2 755.8,164.0 756.7,146.5 757.5,156.6 758.3,165.2 759.1,187.7 760.0,166.8 760.8,173.9 761.6,172.2 762.4,195.5 763.2,172.7 764.1,161.9 764.9,166.8 765.7,169.0 766.5,136.2 767.4,131.8 768.2,124.3 769.0,148.3 769.8,161.0 770.6,145.9 771.5,147.9 772.3,183.9" fill="none" stroke="#a01e84" stroke-width="1.6" stroke-linejoin="round" />
<polyline points="481.1,264.0 481.1,170.0 482.0,110.0 484.2,34.0 486.4,58.0 487.2,79.0 487.8,110.0 490.1,200.0 490.8,264.0" fill="none" stroke="#5868cc" stroke-width="1.4" stroke-dasharray="2,2.6"/>
</g>
<g clip-path="url(#cc)">
<polyline points="49.0,504.2 49.9,504.9 50.7,501.2 51.6,516.4 52.5,505.9 53.3,500.0 54.2,505.0 55.1,500.7 55.9,518.4 56.8,505.7 57.6,500.2 58.5,488.9 59.4,499.1 60.2,502.5 61.1,506.0 62.0,499.9 62.8,505.4 63.7,493.1 64.6,505.7 65.4,493.8 66.3,506.7 67.2,515.0 68.0,514.6 68.9,491.4 69.7,489.7 70.6,468.0 71.5,449.6 72.3,430.7 73.2,416.5 74.1,407.6 74.9,397.3 75.8,387.1 76.7,374.1 77.5,369.7 78.4,364.9 79.3,360.4 80.1,353.7 81.0,351.9 81.8,350.7 82.7,351.8 83.6,349.6 84.4,348.6 85.3,349.5 86.2,349.9 87.0,349.4 87.9,351.2 88.8,352.3 89.6,354.8 90.5,355.1 91.4,357.5 92.2,358.3 93.1,361.6 93.9,361.8 94.8,362.2 95.7,365.0 96.5,366.7 97.4,365.4 98.3,365.5 99.1,368.2 100.0,370.2 100.9,371.0 101.7,373.1 102.6,370.3 103.5,371.7 104.3,372.7 105.2,371.9 106.0,374.3 106.9,374.9 107.8,377.2 108.6,375.9 109.5,376.7 110.4,377.6 111.2,379.0 112.1,381.5 113.0,382.0 113.8,378.7 114.7,381.8 115.6,382.7 116.4,381.0 117.3,382.9 118.1,382.7 119.0,386.4 119.9,386.9 120.7,386.7 121.6,387.0 122.5,383.1 123.3,383.6 124.2,385.2 125.1,384.9 125.9,387.1 126.8,387.4 127.7,385.5 128.5,385.8 129.4,388.7 130.2,387.2 131.1,389.0 132.0,388.4 132.8,388.4 133.7,390.6 134.6,385.7 135.4,386.4 136.3,388.2 137.2,387.2 138.0,389.0 138.9,393.0 139.8,390.2 140.6,387.1 141.5,388.0 142.3,388.0 143.2,388.6 144.1,386.3 144.9,388.9 145.8,387.8 146.7,390.4 147.5,387.1 148.4,390.6 149.3,390.3 150.1,391.0 151.0,387.5 151.9,386.7 152.7,391.0 153.6,391.8 154.4,393.1 155.3,391.0 156.2,390.1 157.0,391.7 157.9,390.5 158.8,390.9 159.6,393.2 160.5,394.2 161.4,391.6 162.2,389.3 163.1,391.1 164.0,395.0 164.8,392.6 165.7,391.2 166.5,395.7 167.4,390.2 168.3,395.7 169.1,390.1 170.0,391.5 170.9,394.3 171.7,393.4 172.6,393.3 173.5,392.0 174.3,393.7 175.2,397.5 176.1,392.9 176.9,392.7 177.8,395.8 178.6,397.2 179.5,396.6 180.4,392.7 181.2,395.1 182.1,395.7 183.0,394.2 183.8,397.9 184.7,395.9 185.6,399.9 186.4,397.9 187.3,397.2 188.2,398.3 189.0,393.8 189.9,396.7 190.7,396.5 191.6,393.7 192.5,398.4 193.3,397.4 194.2,397.1 195.1,397.3 195.9,397.0 196.8,399.3 197.7,402.3 198.5,397.4 199.4,399.2 200.3,396.7 201.1,399.3 202.0,394.8 202.8,400.2 203.7,393.5 204.6,399.1 205.4,395.2 206.3,399.1 207.2,400.1 208.0,402.9 208.9,395.1 209.8,398.1 210.6,403.4 211.5,399.4 212.4,398.7 213.2,403.3 214.1,399.4 215.0,402.8 215.8,402.8 216.7,400.6 217.5,396.3 218.4,402.7 219.3,405.6 220.1,399.2 221.0,403.2 221.9,401.0 222.7,401.3 223.6,399.3 224.5,399.0 225.3,405.6 226.2,400.0 227.1,401.5 227.9,403.7 228.8,398.3 229.6,403.3 230.5,402.7 231.4,400.6 232.2,406.1 233.1,404.2 234.0,401.3 234.8,405.1 235.7,403.7 236.6,405.3 237.4,400.0 238.3,394.5 239.2,405.5 240.0,403.5 240.9,405.9 241.7,405.7 242.6,400.1 243.5,400.5 244.3,401.5 245.2,404.2 246.1,407.1 246.9,409.7 247.8,400.3 248.7,406.7 249.5,404.4 250.4,403.9 251.3,406.7 252.1,408.7 253.0,407.9 253.8,402.2 254.7,403.4 255.6,405.1 256.4,402.8 257.3,403.2 258.2,410.0 259.0,402.3 259.9,405.2 260.8,405.4 261.6,409.8 262.5,403.2 263.4,404.3 264.2,410.1 265.1,408.4 265.9,406.2 266.8,407.3 267.7,406.2 268.5,406.5 269.4,404.0 270.3,404.7 271.1,403.9 272.0,407.1 272.9,405.5 273.7,406.2 274.6,407.3 275.5,403.8 276.3,404.7 277.2,408.1 278.0,407.3 278.9,409.9 279.8,404.8 280.6,405.0 281.5,405.7 282.4,407.8 283.2,407.0 284.1,404.6 285.0,408.8 285.8,407.8 286.7,406.6 287.6,407.2 288.4,405.1 289.3,408.0 290.1,399.7 291.0,405.6 291.9,405.7 292.7,404.6 293.6,406.4 294.5,404.1 295.3,407.1 296.2,410.8 297.1,411.8 297.9,408.8 298.8,408.0 299.7,406.5 300.5,410.6 301.4,409.8 302.2,408.7 303.1,404.5 304.0,406.9 304.8,410.6 305.7,410.5 306.6,412.8 307.4,412.3 308.3,408.0 309.2,405.9 310.0,410.0 310.9,411.5 311.8,407.5 312.6,408.6 313.5,412.9 314.3,403.7 315.2,412.0 316.1,407.6 316.9,407.3 317.8,409.5 318.7,402.9 319.5,410.0 320.4,408.1 321.3,410.4 322.1,407.5 323.0,409.8 323.9,405.4 324.7,409.4 325.6,412.2 326.4,409.0 327.3,407.3 328.2,411.9 329.0,413.4 329.9,412.5 330.8,409.1 331.6,411.4 332.5,406.1 333.4,412.2 334.2,413.3 335.1,407.9 336.0,412.5 336.8,409.7 337.7,408.8 338.5,410.4 339.4,412.8 340.3,409.2 341.1,410.1 342.0,414.4 342.9,408.0 343.7,414.2 344.6,409.7 345.5,412.6 346.3,410.9 347.2,407.6 348.1,412.5 348.9,416.5 349.8,411.9 350.6,409.2 351.5,415.7 352.4,410.0 353.2,412.9 354.1,409.4 355.0,413.1 355.8,411.9 356.7,408.1 357.6,413.0 358.4,409.0 359.3,410.0 360.2,413.5 361.0,406.5 361.9,412.3 362.7,406.2" fill="none" stroke="#5db44c" stroke-width="1.5" stroke-linejoin="round" />
<polyline points="49.0,488.4 49.9,492.0 50.7,485.6 51.6,471.4 52.5,464.8 53.3,488.4 54.2,465.8 55.1,490.6 55.9,477.5 56.8,479.1 57.6,482.1 58.5,463.9 59.4,471.1 60.2,478.1 61.1,468.6 62.0,484.9 62.8,474.5 63.7,464.9 64.6,474.5 65.4,463.5 66.3,488.5 67.2,489.9 68.0,481.0 68.9,480.3 69.7,490.8 70.6,469.8 71.5,449.4 72.3,431.9 73.2,417.8 74.1,405.4 74.9,395.6 75.8,385.4 76.7,374.2 77.5,370.1 78.4,365.0 79.3,360.4 80.1,356.6 81.0,351.9 81.8,352.4 82.7,351.5 83.6,349.8 84.4,347.2 85.3,348.2 86.2,350.0 87.0,350.5 87.9,353.7 88.8,354.1 89.6,354.6 90.5,358.1 91.4,357.9 92.2,359.3 93.1,361.4 93.9,363.6 94.8,361.5 95.7,363.2 96.5,368.8 97.4,368.5 98.3,366.6 99.1,369.3 100.0,367.1 100.9,370.9 101.7,370.2 102.6,370.8 103.5,372.4 104.3,373.4 105.2,376.0 106.0,374.5 106.9,376.2 107.8,379.1 108.6,375.5 109.5,377.5 110.4,383.6 111.2,380.0 112.1,383.2 113.0,383.0 113.8,384.3 114.7,385.2 115.6,386.7 116.4,385.1 117.3,387.1 118.1,387.7 119.0,389.5 119.9,392.6 120.7,387.7 121.6,389.9 122.5,392.6 123.3,386.1 124.2,390.1 125.1,388.3 125.9,391.5 126.8,390.4 127.7,393.0 128.5,391.8 129.4,391.9 130.2,390.2 131.1,391.8 132.0,393.3 132.8,394.3 133.7,392.5 134.6,389.0 135.4,396.2 136.3,394.1 137.2,391.3 138.0,392.4 138.9,392.6 139.8,398.1 140.6,394.0 141.5,391.4 142.3,392.7 143.2,396.2 144.1,398.9 144.9,392.4 145.8,401.0 146.7,399.9 147.5,399.3 148.4,396.0 149.3,394.7 150.1,398.6 151.0,396.4 151.9,401.5 152.7,398.2 153.6,399.3 154.4,400.7 155.3,401.0 156.2,399.4 157.0,401.9 157.9,399.3 158.8,396.1 159.6,401.2 160.5,404.3 161.4,399.3 162.2,396.8 163.1,399.5 164.0,408.0 164.8,403.8 165.7,400.7 166.5,404.8 167.4,401.3 168.3,404.3 169.1,403.8 170.0,403.4 170.9,400.1 171.7,402.6 172.6,400.7 173.5,408.0 174.3,408.8 175.2,404.5 176.1,405.7 176.9,406.5 177.8,404.4 178.6,405.5 179.5,405.8 180.4,402.9 181.2,399.8 182.1,405.6 183.0,404.0 183.8,409.9 184.7,404.2 185.6,406.0 186.4,410.6 187.3,409.2 188.2,401.5 189.0,405.8 189.9,408.3 190.7,408.0 191.6,403.4 192.5,407.5 193.3,407.5 194.2,408.7 195.1,405.6 195.9,406.2 196.8,406.1 197.7,411.7 198.5,408.4 199.4,407.9 200.3,404.5 201.1,404.8 202.0,410.3 202.8,409.2 203.7,410.5 204.6,407.5 205.4,405.8 206.3,411.2 207.2,411.7 208.0,411.3 208.9,409.3 209.8,409.1 210.6,410.3 211.5,411.3 212.4,409.7 213.2,411.1 214.1,412.4 215.0,412.8 215.8,414.0 216.7,413.9 217.5,408.8 218.4,415.9 219.3,413.5 220.1,414.3 221.0,409.8 221.9,414.1 222.7,414.0 223.6,413.2 224.5,414.8 225.3,411.9 226.2,411.1 227.1,412.4 227.9,408.2 228.8,411.3 229.6,415.5 230.5,415.8 231.4,410.6 232.2,411.5 233.1,412.2 234.0,421.0 234.8,415.1 235.7,412.6 236.6,413.7 237.4,408.5 238.3,413.2 239.2,413.3 240.0,413.7 240.9,409.6 241.7,412.9 242.6,413.2 243.5,411.8 244.3,416.9 245.2,409.1 246.1,418.6 246.9,412.0 247.8,420.2 248.7,409.9 249.5,419.7 250.4,411.1 251.3,416.7 252.1,415.7 253.0,419.0 253.8,411.6 254.7,415.1 255.6,416.3 256.4,418.1 257.3,417.6 258.2,409.3 259.0,409.0 259.9,413.9 260.8,421.2 261.6,418.7 262.5,408.2 263.4,416.9 264.2,421.9 265.1,419.6 265.9,418.5 266.8,418.1 267.7,415.3 268.5,414.8 269.4,421.0 270.3,412.5 271.1,419.7 272.0,427.4 272.9,418.6 273.7,422.2 274.6,416.9 275.5,424.5 276.3,420.0 277.2,411.5 278.0,420.5 278.9,418.7 279.8,420.7 280.6,418.6 281.5,418.9 282.4,424.3 283.2,420.4 284.1,415.3 285.0,408.6 285.8,413.7 286.7,421.2 287.6,421.6 288.4,421.3 289.3,414.0 290.1,419.8 291.0,416.2 291.9,417.9 292.7,417.5 293.6,415.6 294.5,421.0 295.3,418.6 296.2,419.0 297.1,418.6 297.9,419.0 298.8,422.3 299.7,419.2 300.5,417.2 301.4,418.7 302.2,420.2 303.1,419.1 304.0,424.3 304.8,418.8 305.7,424.9 306.6,419.4 307.4,419.4 308.3,424.6 309.2,424.4 310.0,417.0 310.9,420.1 311.8,419.4 312.6,421.9 313.5,415.8 314.3,417.3 315.2,419.6 316.1,422.3 316.9,420.3 317.8,423.9 318.7,427.2 319.5,425.6 320.4,423.4 321.3,420.5 322.1,426.7 323.0,423.4 323.9,422.4 324.7,425.2 325.6,430.3 326.4,419.7 327.3,421.9 328.2,417.1 329.0,426.2 329.9,426.2 330.8,431.1 331.6,423.9 332.5,429.8 333.4,425.5 334.2,420.9 335.1,429.5 336.0,425.4 336.8,426.3 337.7,426.8 338.5,434.4 339.4,423.7 340.3,423.5 341.1,422.8 342.0,423.4 342.9,418.6 343.7,425.1 344.6,428.6 345.5,426.5 346.3,423.0 347.2,424.8 348.1,421.7 348.9,427.4 349.8,428.6 350.6,420.8 351.5,431.0 352.4,419.5 353.2,425.0 354.1,427.5 355.0,426.2 355.8,424.8 356.7,418.7 357.6,429.1 358.4,434.6 359.3,428.4 360.2,423.1 361.0,425.4 361.9,427.2 362.7,424.3" fill="none" stroke="#2f6db8" stroke-width="1.5" stroke-linejoin="round" />
<polyline points="49.0,473.7 49.9,465.9 50.7,458.5 51.6,471.5 52.5,475.5 53.3,461.0 54.2,465.9 55.1,479.6 55.9,464.3 56.8,475.5 57.6,470.0 58.5,465.5 59.4,477.7 60.2,474.2 61.1,468.0 62.0,486.6 62.8,476.2 63.7,490.1 64.6,470.6 65.4,474.4 66.3,482.8 67.2,479.9 68.0,489.6 68.9,474.2 69.7,489.9 70.6,468.7 71.5,448.3 72.3,430.6 73.2,418.8 74.1,406.1 74.9,395.3 75.8,385.1 76.7,374.5 77.5,368.9 78.4,363.4 79.3,358.8 80.1,355.8 81.0,352.9 81.8,352.1 82.7,349.9 83.6,349.3 84.4,348.2 85.3,348.0 86.2,350.7 87.0,350.0 87.9,351.6 88.8,353.2 89.6,354.7 90.5,356.9 91.4,358.3 92.2,358.8 93.1,361.3 93.9,359.8 94.8,361.7 95.7,363.9 96.5,366.0 97.4,365.0 98.3,368.2 99.1,368.5 100.0,372.8 100.9,371.0 101.7,374.1 102.6,373.0 103.5,375.0 104.3,377.5 105.2,374.5 106.0,377.5 106.9,378.9 107.8,378.0 108.6,380.0 109.5,379.9 110.4,380.4 111.2,380.1 112.1,380.3 113.0,385.8 113.8,381.9 114.7,382.6 115.6,386.8 116.4,381.8 117.3,389.3 118.1,386.8 119.0,389.7 119.9,386.7 120.7,387.8 121.6,387.6 122.5,387.5 123.3,393.3 124.2,390.0 125.1,387.9 125.9,391.2 126.8,391.1 127.7,395.7 128.5,390.0 129.4,390.6 130.2,389.6 131.1,393.7 132.0,391.5 132.8,390.5 133.7,394.9 134.6,396.7 135.4,397.6 136.3,390.4 137.2,397.8 138.0,396.1 138.9,398.3 139.8,396.8 140.6,395.4 141.5,396.8 142.3,396.8 143.2,403.0 144.1,402.8 144.9,400.5 145.8,404.0 146.7,399.7 147.5,403.7 148.4,402.7 149.3,403.3 150.1,404.8 151.0,401.9 151.9,403.1 152.7,400.6 153.6,401.1 154.4,405.3 155.3,405.0 156.2,406.3 157.0,408.0 157.9,407.4 158.8,407.2 159.6,407.1 160.5,406.3 161.4,407.2 162.2,408.7 163.1,412.1 164.0,408.7 164.8,408.8 165.7,409.0 166.5,409.0 167.4,409.6 168.3,405.5 169.1,415.6 170.0,413.2 170.9,414.5 171.7,413.2 172.6,413.0 173.5,411.2 174.3,418.5 175.2,414.8 176.1,411.9 176.9,415.7 177.8,415.8 178.6,415.8 179.5,420.2 180.4,415.0 181.2,407.0 182.1,415.6 183.0,415.3 183.8,419.6 184.7,412.2 185.6,418.5 186.4,415.1 187.3,415.7 188.2,417.8 189.0,416.9 189.9,420.7 190.7,420.7 191.6,423.3 192.5,422.6 193.3,418.1 194.2,413.7 195.1,424.3 195.9,417.9 196.8,420.2 197.7,418.1 198.5,423.5 199.4,421.3 200.3,415.9 201.1,420.8 202.0,423.7 202.8,422.3 203.7,420.7 204.6,419.4 205.4,419.7 206.3,425.8 207.2,413.4 208.0,421.5 208.9,416.4 209.8,423.9 210.6,425.8 211.5,423.6 212.4,429.8 213.2,426.0 214.1,428.3 215.0,425.4 215.8,433.4 216.7,427.3 217.5,427.1 218.4,425.6 219.3,418.6 220.1,424.9 221.0,425.2 221.9,427.3 222.7,430.7 223.6,421.3 224.5,431.1 225.3,427.9 226.2,429.0 227.1,431.8 227.9,423.7 228.8,430.7 229.6,429.1 230.5,421.8 231.4,427.8 232.2,429.5 233.1,424.7 234.0,434.5 234.8,421.8 235.7,434.7 236.6,432.7 237.4,430.4 238.3,434.1 239.2,430.0 240.0,433.5 240.9,427.0 241.7,433.5 242.6,431.1 243.5,433.5 244.3,431.6 245.2,434.9 246.1,442.9 246.9,427.4 247.8,428.5 248.7,432.1 249.5,425.7 250.4,436.6 251.3,433.2 252.1,430.9 253.0,443.1 253.8,432.7 254.7,429.9 255.6,433.8 256.4,435.8 257.3,431.9 258.2,438.4 259.0,434.6 259.9,437.5 260.8,433.6 261.6,436.5 262.5,433.9 263.4,431.9 264.2,428.2 265.1,448.5 265.9,445.1 266.8,448.3 267.7,438.4 268.5,439.6 269.4,434.3 270.3,432.5 271.1,439.0 272.0,442.7 272.9,439.6 273.7,449.9 274.6,440.4 275.5,443.5 276.3,437.8 277.2,436.5 278.0,437.6 278.9,443.5 279.8,445.2 280.6,443.2 281.5,439.8 282.4,442.6 283.2,430.6 284.1,441.4 285.0,448.1 285.8,440.5 286.7,434.1 287.6,441.3 288.4,445.0 289.3,448.2 290.1,456.6 291.0,448.2 291.9,450.8 292.7,449.1 293.6,446.1 294.5,443.0 295.3,451.6 296.2,440.1 297.1,441.1 297.9,443.7 298.8,440.5 299.7,440.4 300.5,449.0 301.4,455.4 302.2,442.9 303.1,451.2 304.0,451.7 304.8,443.1 305.7,446.3 306.6,452.0 307.4,450.6 308.3,447.4 309.2,442.0 310.0,449.0 310.9,447.7 311.8,453.4 312.6,450.5 313.5,441.3 314.3,452.5 315.2,445.7 316.1,450.4 316.9,453.2 317.8,453.3 318.7,450.0 319.5,464.5 320.4,446.6 321.3,449.6 322.1,458.4 323.0,462.3 323.9,455.7 324.7,457.8 325.6,459.4 326.4,456.7 327.3,443.3 328.2,445.8 329.0,464.8 329.9,453.5 330.8,464.3 331.6,455.2 332.5,454.2 333.4,459.8 334.2,453.9 335.1,449.3 336.0,452.5 336.8,455.8 337.7,464.4 338.5,458.4 339.4,458.4 340.3,466.1 341.1,453.8 342.0,476.3 342.9,468.5 343.7,455.0 344.6,446.8 345.5,461.4 346.3,460.9 347.2,470.9 348.1,461.3 348.9,471.8 349.8,473.1 350.6,458.6 351.5,467.5 352.4,461.3 353.2,455.9 354.1,459.7 355.0,468.4 355.8,468.3 356.7,475.5 357.6,463.6 358.4,467.3 359.3,454.4 360.2,463.7 361.0,460.8 361.9,454.3 362.7,469.8" fill="none" stroke="#d0332a" stroke-width="1.5" stroke-linejoin="round" />
<polyline points="49.0,486.0 49.9,510.5 50.7,497.3 51.6,493.7 52.5,501.4 53.3,500.2 54.2,506.7 55.1,487.0 55.9,492.4 56.8,509.0 57.6,496.4 58.5,511.2 59.4,494.6 60.2,489.8 61.1,517.3 62.0,502.1 62.8,500.8 63.7,482.3 64.6,492.7 65.4,491.6 66.3,499.4 67.2,496.5 68.0,491.4 68.9,496.2 69.7,489.5 70.6,470.9 71.5,449.4 72.3,431.8 73.2,419.5 74.1,408.4 74.9,395.6 75.8,384.4 76.7,374.9 77.5,368.8 78.4,365.2 79.3,359.7 80.1,356.6 81.0,353.1 81.8,351.3 82.7,350.8 83.6,349.1 84.4,348.6 85.3,348.2 86.2,350.9 87.0,352.5 87.9,352.8 88.8,354.0 89.6,354.5 90.5,356.2 91.4,358.2 92.2,359.6 93.1,360.5 93.9,361.3 94.8,363.4 95.7,364.2 96.5,367.5 97.4,365.4 98.3,366.3 99.1,369.7 100.0,371.4 100.9,371.5 101.7,370.0 102.6,373.8 103.5,369.6 104.3,370.7 105.2,373.6 106.0,373.2 106.9,373.0 107.8,372.5 108.6,378.2 109.5,378.1 110.4,378.2 111.2,377.7 112.1,379.3 113.0,379.7 113.8,379.4 114.7,381.0 115.6,379.5 116.4,384.1 117.3,381.8 118.1,381.7 119.0,382.8 119.9,385.8 120.7,383.6 121.6,384.0 122.5,385.1 123.3,384.8 124.2,384.6 125.1,385.5 125.9,385.8 126.8,386.4 127.7,387.9 128.5,383.9 129.4,388.3 130.2,387.1 131.1,385.8 132.0,386.1 132.8,386.9 133.7,389.1 134.6,388.3 135.4,388.7 136.3,387.4 137.2,387.7 138.0,390.3 138.9,386.6 139.8,388.1 140.6,389.6 141.5,389.0 142.3,388.7 143.2,390.1 144.1,391.1 144.9,390.0 145.8,391.1 146.7,386.3 147.5,392.1 148.4,392.0 149.3,390.0 150.1,387.7 151.0,392.1 151.9,389.1 152.7,392.6 153.6,391.8 154.4,390.7 155.3,394.2 156.2,392.1 157.0,394.1 157.9,393.9 158.8,391.6 159.6,393.4 160.5,392.6 161.4,394.0 162.2,394.5 163.1,392.7 164.0,392.3 164.8,392.0 165.7,392.7 166.5,395.6 167.4,391.7 168.3,395.8 169.1,396.8 170.0,396.2 170.9,398.2 171.7,393.9 172.6,397.4 173.5,394.8 174.3,398.3 175.2,397.9 176.1,396.5 176.9,398.6 177.8,394.4 178.6,394.8 179.5,396.5 180.4,398.4 181.2,398.2 182.1,393.7 183.0,399.8 183.8,397.1 184.7,396.7 185.6,399.5 186.4,398.3 187.3,397.6 188.2,398.2 189.0,397.3 189.9,394.8 190.7,399.6 191.6,398.4 192.5,398.2 193.3,398.4 194.2,398.6 195.1,398.3 195.9,398.6 196.8,398.7 197.7,398.9 198.5,397.2 199.4,401.1 200.3,401.8 201.1,400.0 202.0,398.0 202.8,403.2 203.7,403.5 204.6,402.7 205.4,401.0 206.3,399.2 207.2,399.0 208.0,400.6 208.9,401.9 209.8,399.4 210.6,400.4 211.5,402.1 212.4,400.7 213.2,400.3 214.1,400.9 215.0,403.0 215.8,402.9 216.7,399.2 217.5,400.2 218.4,402.9 219.3,401.7 220.1,400.4 221.0,399.2 221.9,403.7 222.7,401.7 223.6,402.9 224.5,398.0 225.3,400.9 226.2,401.1 227.1,402.4 227.9,403.0 228.8,399.6 229.6,401.6 230.5,403.8 231.4,402.2 232.2,404.0 233.1,404.0 234.0,400.8 234.8,403.3 235.7,403.5 236.6,404.3 237.4,406.6 238.3,400.3 239.2,403.8 240.0,403.6 240.9,406.1 241.7,401.7 242.6,405.6 243.5,401.0 244.3,403.3 245.2,405.7 246.1,408.3 246.9,405.5 247.8,407.4 248.7,404.3 249.5,404.7 250.4,405.3 251.3,403.8 252.1,405.6 253.0,402.0 253.8,404.7 254.7,404.4 255.6,404.2 256.4,408.8 257.3,405.3 258.2,402.3 259.0,402.8 259.9,407.7 260.8,405.2 261.6,405.1 262.5,404.9 263.4,406.4 264.2,407.3 265.1,406.8 265.9,405.9 266.8,403.8 267.7,402.9 268.5,407.8 269.4,405.8 270.3,406.8 271.1,407.5 272.0,402.0 272.9,405.0 273.7,405.4 274.6,405.2 275.5,407.4 276.3,408.4 277.2,404.3 278.0,411.1 278.9,407.2 279.8,410.0 280.6,407.4 281.5,409.5 282.4,409.6 283.2,409.2 284.1,406.4 285.0,406.6 285.8,408.7 286.7,404.5 287.6,407.4 288.4,404.7 289.3,407.7 290.1,414.4 291.0,411.5 291.9,408.8 292.7,406.6 293.6,410.1 294.5,409.0 295.3,408.3 296.2,408.0 297.1,406.6 297.9,406.4 298.8,409.8 299.7,404.3 300.5,410.2 301.4,409.3 302.2,405.0 303.1,410.6 304.0,409.9 304.8,411.9 305.7,413.1 306.6,411.2 307.4,409.5 308.3,406.4 309.2,404.1 310.0,406.5 310.9,407.4 311.8,411.5 312.6,415.4 313.5,410.3 314.3,411.2 315.2,410.1 316.1,411.2 316.9,408.6 317.8,413.0 318.7,414.8 319.5,413.0 320.4,410.8 321.3,410.6 322.1,413.7 323.0,412.9 323.9,411.5 324.7,413.0 325.6,408.6 326.4,411.6 327.3,408.9 328.2,412.1 329.0,414.5 329.9,410.8 330.8,408.1 331.6,411.3 332.5,415.0 333.4,410.0 334.2,409.6 335.1,412.5 336.0,411.9 336.8,409.3 337.7,413.4 338.5,407.9 339.4,409.5 340.3,411.6 341.1,413.0 342.0,410.3 342.9,406.3 343.7,414.8 344.6,411.1 345.5,414.3 346.3,409.4 347.2,412.3 348.1,414.9 348.9,414.9 349.8,411.7 350.6,414.2 351.5,412.6 352.4,413.8 353.2,413.8 354.1,410.3 355.0,409.3 355.8,416.4 356.7,413.3 357.6,415.0 358.4,413.2 359.3,410.5 360.2,408.5 361.0,410.8 361.9,411.6 362.7,414.2" fill="none" stroke="#231f20" stroke-width="1.35" stroke-linejoin="round" />
<polyline points="49.0,577.8 49.9,577.8 50.7,577.8 51.6,577.8 52.5,577.8 53.3,577.8 54.2,577.8 55.1,577.8 55.9,577.8 56.8,577.8 57.6,577.8 58.5,577.8 59.4,577.8 60.2,577.8 61.1,577.8 62.0,577.8 62.8,577.8 63.7,577.8 64.6,577.8 65.4,577.8 66.3,577.8 67.2,577.8 68.0,577.8 68.9,577.8 69.7,548.4 70.6,503.7 71.5,461.6 72.3,432.8 73.2,418.5 74.1,406.5 74.9,395.0 75.8,384.0 76.7,373.6 77.5,367.6 78.4,365.4 79.3,360.2 80.1,353.9 81.0,352.3 81.8,351.3 82.7,351.9 83.6,350.6 84.4,347.8 85.3,349.0 86.2,350.4 87.0,351.4 87.9,353.5 88.8,352.9 89.6,354.2 90.5,355.6 91.4,359.1 92.2,361.3 93.1,364.1 93.9,363.8 94.8,365.4 95.7,370.8 96.5,373.1 97.4,376.5 98.3,380.3 99.1,385.3 100.0,391.5 100.9,393.8 101.7,403.4 102.6,404.1 103.5,405.6 104.3,408.4 105.2,417.5 106.0,421.7 106.9,421.7 107.8,427.2 108.6,442.2 109.5,446.0 110.4,450.3 111.2,439.9 112.1,455.2 113.0,451.8 113.8,446.0 114.7,457.1 115.6,457.1 116.4,459.0 117.3,468.3 118.1,496.5 119.0,477.6 119.9,477.6 120.7,548.4 121.6,496.5 122.5,496.5 123.3,496.5 124.2,513.0 125.1,548.4 125.9,548.4 126.8,496.5 127.7,548.4 128.5,526.0 129.4,526.0 130.2,577.8" fill="none" stroke="#5868cc" stroke-width="1.3" stroke-linejoin="round" stroke-dasharray="1.8,1.3"/>
<path d="M131.98,572.80V526.03 M134.57,572.80V526.03 M135.43,572.80V526.03 M140.62,572.80V548.36 M141.48,572.80V548.36 M143.21,572.80V526.03 M146.67,572.80V548.36 M149.26,572.80V548.36 M155.31,572.80V548.36 M174.33,572.80V548.36 M183.83,572.80V548.36 M329.04,572.80V548.36" fill="none" stroke="#5868cc" stroke-width="1.3" stroke-dasharray="1.8,1.3"/>
</g>
<g clip-path="url(#cd)">
<polyline points="459.1,493.3 460.0,505.7 460.8,490.9 461.7,484.5 462.6,503.6 463.4,484.7 464.3,499.8 465.2,498.1 466.0,479.8 466.9,494.2 467.7,484.3 468.6,485.5 469.5,490.1 470.3,479.3 471.2,486.0 472.1,482.1 472.9,488.1 473.8,509.4 474.7,511.4 475.5,496.0 476.4,490.9 477.3,479.4 478.1,482.7 479.0,496.5 479.8,487.8 480.7,470.7 481.6,450.2 482.4,429.9 483.3,418.2 484.2,404.7 485.0,396.0 485.9,385.4 486.8,376.7 487.6,368.9 488.5,363.6 489.4,359.3 490.2,352.6 491.1,351.7 491.9,350.7 492.8,348.9 493.7,348.2 494.5,347.8 495.4,349.9 496.3,351.9 497.1,351.2 498.0,352.2 498.9,352.8 499.7,353.8 500.6,355.5 501.5,358.5 502.3,358.8 503.2,360.3 504.0,363.2 504.9,361.6 505.8,363.4 506.6,363.1 507.5,364.5 508.4,365.2 509.2,368.6 510.1,366.2 511.0,367.7 511.8,369.0 512.7,369.0 513.6,370.7 514.4,368.3 515.3,371.1 516.1,372.9 517.0,374.7 517.9,373.1 518.7,374.7 519.6,373.0 520.5,372.6 521.3,374.4 522.2,375.8 523.1,375.5 523.9,374.5 524.8,375.0 525.7,376.5 526.5,377.4 527.4,373.8 528.2,376.9 529.1,376.9 530.0,378.5 530.8,378.0 531.7,378.8 532.6,376.5 533.4,380.0 534.3,380.4 535.2,380.9 536.0,378.5 536.9,383.3 537.8,381.7 538.6,383.5 539.5,380.0 540.3,383.5 541.2,381.9 542.1,381.6 542.9,383.2 543.8,387.5 544.7,382.9 545.5,385.2 546.4,384.2 547.3,383.0 548.1,383.4 549.0,384.1 549.9,385.8 550.7,386.7 551.6,385.8 552.4,388.6 553.3,384.6 554.2,386.4 555.0,383.1 555.9,384.7 556.8,385.9 557.6,385.6 558.5,385.7 559.4,386.8 560.2,384.2 561.1,387.6 562.0,387.5 562.8,386.0 563.7,387.0 564.5,387.6 565.4,386.9 566.3,389.0 567.1,388.1 568.0,390.3 568.9,393.1 569.7,390.1 570.6,391.6 571.5,391.3 572.3,387.7 573.2,388.1 574.1,391.1 574.9,389.0 575.8,392.2 576.6,388.6 577.5,390.3 578.4,390.1 579.2,391.0 580.1,390.2 581.0,390.1 581.8,392.2 582.7,387.8 583.6,394.7 584.4,390.6 585.3,392.4 586.2,388.9 587.0,396.3 587.9,392.2 588.7,389.6 589.6,394.4 590.5,391.0 591.3,392.7 592.2,395.5 593.1,393.5 593.9,394.7 594.8,394.7 595.7,394.8 596.5,396.4 597.4,393.3 598.3,393.0 599.1,395.2 600.0,392.2 600.8,393.6 601.7,397.7 602.6,394.6 603.4,394.9 604.3,394.7 605.2,393.0 606.0,394.1 606.9,397.7 607.8,391.8 608.6,394.5 609.5,393.8 610.4,394.1 611.2,397.6 612.1,394.8 612.9,396.0 613.8,395.0 614.7,395.4 615.5,397.3 616.4,395.0 617.3,395.5 618.1,399.1 619.0,394.3 619.9,396.3 620.7,397.5 621.6,398.9 622.5,398.4 623.3,397.0 624.2,395.3 625.1,398.4 625.9,398.6 626.8,394.8 627.6,395.8 628.5,396.0 629.4,400.2 630.2,396.9 631.1,396.6 632.0,394.5 632.8,398.6 633.7,399.5 634.6,400.7 635.4,399.2 636.3,398.6 637.2,400.0 638.0,395.5 638.9,397.7 639.7,400.0 640.6,397.3 641.5,398.7 642.3,400.0 643.2,399.5 644.1,395.4 644.9,397.1 645.8,401.2 646.7,399.1 647.5,400.4 648.4,400.8 649.3,397.2 650.1,399.9 651.0,398.9 651.8,403.1 652.7,400.5 653.6,398.4 654.4,397.7 655.3,400.5 656.2,398.8 657.0,398.4 657.9,399.5 658.8,401.8 659.6,399.7 660.5,398.4 661.4,399.4 662.2,398.3 663.1,399.6 663.9,402.0 664.8,399.4 665.7,401.3 666.5,399.2 667.4,400.5 668.3,405.6 669.1,401.9 670.0,401.8 670.9,401.4 671.7,402.1 672.6,402.7 673.5,401.3 674.3,399.7 675.2,400.5 676.0,400.3 676.9,401.6 677.8,400.0 678.6,403.0 679.5,402.5 680.4,402.7 681.2,402.2 682.1,402.2 683.0,400.1 683.8,403.3 684.7,408.9 685.6,404.4 686.4,401.0 687.3,402.3 688.1,399.5 689.0,404.4 689.9,404.3 690.7,400.9 691.6,406.2 692.5,400.5 693.3,400.6 694.2,405.3 695.1,406.0 695.9,403.2 696.8,404.3 697.7,402.5 698.5,399.3 699.4,406.8 700.2,401.5 701.1,404.1 702.0,403.8 702.8,400.6 703.7,407.1 704.6,404.0 705.4,405.0 706.3,403.8 707.2,402.7 708.0,406.2 708.9,404.5 709.8,402.6 710.6,402.1 711.5,402.4 712.3,407.9 713.2,404.7 714.1,407.8 714.9,409.4 715.8,409.7 716.7,403.3 717.5,405.9 718.4,403.4 719.3,399.0 720.1,403.6 721.0,403.6 721.9,404.8 722.7,403.9 723.6,404.2 724.4,401.7 725.3,407.9 726.2,404.6 727.0,406.1 727.9,404.9 728.8,401.8 729.6,406.6 730.5,405.8 731.4,401.5 732.2,406.1 733.1,403.8 734.0,407.3 734.8,402.9 735.7,404.7 736.5,407.2 737.4,404.9 738.3,406.0 739.1,405.0 740.0,400.2 740.9,404.9 741.7,405.5 742.6,407.9 743.5,404.9 744.3,402.4 745.2,405.7 746.1,407.4 746.9,405.2 747.8,409.2 748.6,410.0 749.5,407.0 750.4,406.5 751.2,406.1 752.1,404.7 753.0,405.6 753.8,407.1 754.7,408.1 755.6,409.8 756.4,402.1 757.3,410.8 758.2,406.5 759.0,405.4 759.9,404.2 760.7,406.1 761.6,405.7 762.5,406.3 763.3,405.5 764.2,409.5 765.1,409.9 765.9,406.3 766.8,404.6 767.7,404.4 768.5,404.9 769.4,409.4 770.3,403.4 771.1,402.7 772.0,411.6 772.8,411.0" fill="none" stroke="#5db44c" stroke-width="1.5" stroke-linejoin="round" />
<polyline points="459.1,481.0 460.0,478.7 460.8,486.6 461.7,492.1 462.6,498.8 463.4,490.0 464.3,476.8 465.2,499.3 466.0,501.5 466.9,509.4 467.7,486.7 468.6,494.1 469.5,502.8 470.3,484.5 471.2,488.4 472.1,491.2 472.9,501.4 473.8,488.6 474.7,506.1 475.5,495.6 476.4,483.7 477.3,487.8 478.1,498.6 479.0,496.8 479.8,490.3 480.7,467.2 481.6,450.2 482.4,432.6 483.3,416.9 484.2,407.7 485.0,397.1 485.9,385.5 486.8,373.8 487.6,369.9 488.5,363.9 489.4,360.5 490.2,356.6 491.1,352.4 491.9,349.5 492.8,349.1 493.7,349.7 494.5,349.6 495.4,348.9 496.3,349.5 497.1,352.1 498.0,350.5 498.9,353.3 499.7,354.2 500.6,356.4 501.5,356.4 502.3,361.3 503.2,359.7 504.0,359.6 504.9,362.9 505.8,364.6 506.6,364.4 507.5,365.1 508.4,366.1 509.2,368.5 510.1,366.9 511.0,370.4 511.8,371.8 512.7,373.6 513.6,368.8 514.4,372.3 515.3,373.1 516.1,373.1 517.0,375.8 517.9,372.2 518.7,375.5 519.6,374.9 520.5,377.1 521.3,372.6 522.2,375.6 523.1,376.5 523.9,378.6 524.8,374.8 525.7,380.9 526.5,379.6 527.4,382.0 528.2,380.2 529.1,381.1 530.0,380.7 530.8,384.9 531.7,383.0 532.6,384.5 533.4,385.7 534.3,384.7 535.2,384.5 536.0,386.1 536.9,388.4 537.8,385.4 538.6,391.2 539.5,388.6 540.3,387.7 541.2,385.9 542.1,388.4 542.9,386.6 543.8,387.7 544.7,388.3 545.5,389.0 546.4,388.6 547.3,393.4 548.1,393.0 549.0,388.3 549.9,391.8 550.7,392.1 551.6,393.7 552.4,396.7 553.3,395.7 554.2,392.0 555.0,394.2 555.9,390.7 556.8,394.1 557.6,394.1 558.5,394.8 559.4,396.7 560.2,395.0 561.1,393.6 562.0,394.1 562.8,396.5 563.7,394.5 564.5,395.8 565.4,393.0 566.3,397.4 567.1,394.6 568.0,399.6 568.9,398.2 569.7,398.9 570.6,396.1 571.5,399.3 572.3,397.9 573.2,396.6 574.1,402.3 574.9,399.9 575.8,399.8 576.6,400.1 577.5,401.3 578.4,403.2 579.2,402.7 580.1,402.4 581.0,397.6 581.8,397.5 582.7,401.7 583.6,400.1 584.4,397.9 585.3,399.6 586.2,399.9 587.0,397.1 587.9,402.3 588.7,400.4 589.6,401.2 590.5,401.4 591.3,400.9 592.2,401.1 593.1,399.9 593.9,400.6 594.8,400.3 595.7,402.4 596.5,395.6 597.4,401.0 598.3,401.7 599.1,402.1 600.0,400.5 600.8,401.9 601.7,404.3 602.6,407.7 603.4,402.7 604.3,404.0 605.2,403.1 606.0,403.2 606.9,403.2 607.8,406.5 608.6,405.7 609.5,403.5 610.4,405.1 611.2,407.1 612.1,403.0 612.9,404.3 613.8,406.8 614.7,404.7 615.5,405.0 616.4,407.7 617.3,409.2 618.1,403.2 619.0,403.4 619.9,404.9 620.7,406.1 621.6,406.3 622.5,406.4 623.3,409.4 624.2,408.3 625.1,407.9 625.9,406.2 626.8,409.1 627.6,402.0 628.5,413.8 629.4,406.3 630.2,407.1 631.1,404.8 632.0,411.1 632.8,408.1 633.7,403.1 634.6,408.6 635.4,410.7 636.3,413.2 637.2,411.3 638.0,405.4 638.9,409.4 639.7,411.3 640.6,411.1 641.5,410.4 642.3,410.1 643.2,408.3 644.1,412.4 644.9,412.7 645.8,408.6 646.7,409.8 647.5,404.5 648.4,411.7 649.3,406.6 650.1,407.3 651.0,415.8 651.8,411.5 652.7,411.6 653.6,413.2 654.4,414.1 655.3,410.0 656.2,411.3 657.0,413.9 657.9,408.1 658.8,408.3 659.6,406.9 660.5,407.6 661.4,412.6 662.2,409.5 663.1,411.0 663.9,415.3 664.8,406.4 665.7,415.1 666.5,410.3 667.4,412.7 668.3,407.7 669.1,411.7 670.0,410.7 670.9,409.4 671.7,415.6 672.6,413.2 673.5,408.9 674.3,416.3 675.2,412.1 676.0,413.8 676.9,411.9 677.8,412.7 678.6,410.2 679.5,415.4 680.4,413.7 681.2,414.6 682.1,405.7 683.0,414.5 683.8,413.8 684.7,412.0 685.6,411.5 686.4,408.4 687.3,412.4 688.1,411.5 689.0,408.4 689.9,419.5 690.7,418.5 691.6,414.4 692.5,414.8 693.3,411.4 694.2,410.9 695.1,416.3 695.9,415.9 696.8,411.5 697.7,412.0 698.5,415.7 699.4,414.4 700.2,416.3 701.1,417.4 702.0,415.1 702.8,417.8 703.7,414.2 704.6,414.3 705.4,414.5 706.3,414.6 707.2,413.2 708.0,415.3 708.9,413.5 709.8,418.4 710.6,418.3 711.5,413.2 712.3,416.6 713.2,415.1 714.1,417.9 714.9,415.0 715.8,416.9 716.7,417.5 717.5,413.9 718.4,414.6 719.3,413.4 720.1,415.2 721.0,411.7 721.9,420.2 722.7,414.3 723.6,419.7 724.4,416.5 725.3,417.0 726.2,417.8 727.0,416.9 727.9,422.4 728.8,414.2 729.6,421.4 730.5,413.4 731.4,416.6 732.2,417.2 733.1,416.2 734.0,418.5 734.8,416.0 735.7,415.4 736.5,423.1 737.4,416.4 738.3,417.7 739.1,412.6 740.0,412.4 740.9,413.1 741.7,417.3 742.6,419.1 743.5,419.2 744.3,418.2 745.2,410.1 746.1,414.1 746.9,420.1 747.8,419.4 748.6,415.1 749.5,419.0 750.4,421.2 751.2,415.4 752.1,419.6 753.0,415.8 753.8,414.6 754.7,420.5 755.6,413.0 756.4,429.3 757.3,419.2 758.2,417.8 759.0,415.4 759.9,421.8 760.7,412.9 761.6,414.8 762.5,419.0 763.3,416.8 764.2,420.5 765.1,413.9 765.9,418.3 766.8,420.5 767.7,420.6 768.5,413.2 769.4,417.8 770.3,423.4 771.1,417.4 772.0,417.9 772.8,420.0" fill="none" stroke="#2f6db8" stroke-width="1.5" stroke-linejoin="round" />
<polyline points="459.1,477.6 460.0,466.6 460.8,475.4 461.7,479.8 462.6,465.8 463.4,486.2 464.3,480.7 465.2,488.2 466.0,468.9 466.9,469.3 467.7,465.5 468.6,489.9 469.5,476.5 470.3,488.0 471.2,472.2 472.1,483.7 472.9,493.8 473.8,465.0 474.7,468.8 475.5,465.3 476.4,465.6 477.3,471.1 478.1,477.2 479.0,471.8 479.8,489.1 480.7,470.0 481.6,449.5 482.4,432.9 483.3,418.1 484.2,407.6 485.0,396.1 485.9,385.3 486.8,376.0 487.6,369.0 488.5,365.7 489.4,357.7 490.2,355.6 491.1,352.6 491.9,352.8 492.8,349.9 493.7,347.6 494.5,348.4 495.4,349.7 496.3,349.7 497.1,350.6 498.0,350.7 498.9,354.0 499.7,353.4 500.6,355.7 501.5,358.1 502.3,359.8 503.2,360.0 504.0,363.5 504.9,364.4 505.8,363.2 506.6,364.1 507.5,365.7 508.4,369.6 509.2,368.0 510.1,368.4 511.0,368.6 511.8,370.7 512.7,373.4 513.6,370.5 514.4,371.3 515.3,375.5 516.1,373.4 517.0,377.0 517.9,377.8 518.7,378.1 519.6,378.9 520.5,380.4 521.3,379.9 522.2,378.5 523.1,380.6 523.9,381.3 524.8,379.3 525.7,379.0 526.5,380.0 527.4,379.8 528.2,384.5 529.1,383.0 530.0,385.1 530.8,384.8 531.7,387.1 532.6,384.7 533.4,385.4 534.3,385.6 535.2,388.7 536.0,386.0 536.9,387.5 537.8,392.2 538.6,386.8 539.5,392.6 540.3,389.5 541.2,393.4 542.1,392.9 542.9,395.3 543.8,393.0 544.7,393.0 545.5,395.5 546.4,397.3 547.3,394.1 548.1,392.8 549.0,395.5 549.9,394.5 550.7,393.4 551.6,394.7 552.4,396.1 553.3,399.6 554.2,398.9 555.0,397.5 555.9,400.1 556.8,394.7 557.6,398.0 558.5,401.9 559.4,399.4 560.2,397.3 561.1,403.9 562.0,402.4 562.8,403.1 563.7,403.3 564.5,401.7 565.4,400.2 566.3,402.3 567.1,402.2 568.0,404.9 568.9,402.0 569.7,405.4 570.6,408.6 571.5,400.4 572.3,404.4 573.2,405.6 574.1,404.5 574.9,406.0 575.8,404.4 576.6,404.5 577.5,406.6 578.4,405.9 579.2,408.8 580.1,411.2 581.0,410.0 581.8,408.0 582.7,412.0 583.6,409.0 584.4,410.7 585.3,409.3 586.2,408.6 587.0,415.6 587.9,409.1 588.7,408.1 589.6,410.2 590.5,414.4 591.3,408.7 592.2,404.3 593.1,410.5 593.9,415.3 594.8,413.1 595.7,412.4 596.5,413.6 597.4,412.0 598.3,413.4 599.1,412.6 600.0,418.7 600.8,410.6 601.7,410.4 602.6,414.8 603.4,415.4 604.3,412.7 605.2,419.1 606.0,407.6 606.9,417.5 607.8,419.0 608.6,413.2 609.5,411.7 610.4,409.1 611.2,413.5 612.1,413.9 612.9,419.7 613.8,413.2 614.7,418.8 615.5,415.0 616.4,421.9 617.3,416.8 618.1,419.4 619.0,419.5 619.9,413.5 620.7,419.7 621.6,418.5 622.5,413.1 623.3,420.2 624.2,421.3 625.1,415.3 625.9,420.3 626.8,421.0 627.6,413.9 628.5,421.3 629.4,420.6 630.2,421.6 631.1,420.5 632.0,421.3 632.8,421.0 633.7,419.5 634.6,422.6 635.4,418.8 636.3,423.9 637.2,422.9 638.0,424.3 638.9,422.8 639.7,426.2 640.6,426.0 641.5,419.5 642.3,425.6 643.2,421.6 644.1,425.0 644.9,422.5 645.8,414.2 646.7,424.6 647.5,422.4 648.4,424.9 649.3,424.4 650.1,424.2 651.0,423.5 651.8,428.5 652.7,424.1 653.6,423.7 654.4,427.0 655.3,430.6 656.2,426.6 657.0,429.5 657.9,423.8 658.8,425.6 659.6,433.5 660.5,429.4 661.4,421.9 662.2,430.5 663.1,430.3 663.9,424.0 664.8,423.6 665.7,423.8 666.5,425.7 667.4,432.2 668.3,430.0 669.1,432.1 670.0,426.0 670.9,428.7 671.7,424.5 672.6,428.8 673.5,424.6 674.3,430.4 675.2,428.6 676.0,422.3 676.9,440.9 677.8,430.5 678.6,434.8 679.5,432.3 680.4,430.5 681.2,434.6 682.1,429.9 683.0,430.4 683.8,430.9 684.7,438.1 685.6,426.2 686.4,426.7 687.3,431.8 688.1,436.2 689.0,435.3 689.9,430.6 690.7,432.3 691.6,432.7 692.5,430.5 693.3,423.9 694.2,435.4 695.1,423.7 695.9,437.4 696.8,430.7 697.7,430.8 698.5,428.7 699.4,430.3 700.2,435.0 701.1,442.0 702.0,436.3 702.8,433.4 703.7,440.4 704.6,432.4 705.4,435.0 706.3,432.1 707.2,432.2 708.0,437.3 708.9,434.8 709.8,429.0 710.6,432.7 711.5,431.1 712.3,437.2 713.2,438.3 714.1,442.3 714.9,437.4 715.8,435.7 716.7,435.0 717.5,438.0 718.4,439.1 719.3,435.3 720.1,436.5 721.0,446.7 721.9,436.9 722.7,445.1 723.6,430.8 724.4,435.0 725.3,433.7 726.2,436.1 727.0,439.7 727.9,438.6 728.8,438.1 729.6,441.2 730.5,434.2 731.4,441.1 732.2,434.4 733.1,433.0 734.0,434.6 734.8,444.2 735.7,427.9 736.5,436.3 737.4,442.2 738.3,434.1 739.1,429.8 740.0,440.6 740.9,440.5 741.7,440.6 742.6,440.2 743.5,438.2 744.3,434.9 745.2,423.9 746.1,437.9 746.9,433.6 747.8,442.2 748.6,434.5 749.5,444.8 750.4,438.0 751.2,430.9 752.1,437.6 753.0,439.1 753.8,434.3 754.7,443.6 755.6,436.9 756.4,443.9 757.3,428.4 758.2,445.1 759.0,445.8 759.9,436.1 760.7,432.9 761.6,437.4 762.5,439.7 763.3,436.8 764.2,439.7 765.1,439.0 765.9,436.6 766.8,442.0 767.7,434.6 768.5,442.1 769.4,440.8 770.3,443.8 771.1,441.3 772.0,434.2 772.8,444.2" fill="none" stroke="#d0332a" stroke-width="1.5" stroke-linejoin="round" />
<polyline points="459.1,492.2 460.0,490.4 460.8,480.0 461.7,478.8 462.6,494.6 463.4,508.3 464.3,511.5 465.2,476.6 466.0,492.0 466.9,484.9 467.7,495.1 468.6,488.9 469.5,483.6 470.3,495.3 471.2,491.9 472.1,486.0 472.9,502.5 473.8,499.9 474.7,485.6 475.5,495.2 476.4,493.1 477.3,506.1 478.1,486.8 479.0,487.1 479.8,487.7 480.7,468.1 481.6,449.7 482.4,432.6 483.3,419.2 484.2,407.1 485.0,394.5 485.9,385.0 486.8,374.3 487.6,371.9 488.5,364.0 489.4,360.3 490.2,355.2 491.1,352.2 491.9,350.6 492.8,350.7 493.7,349.5 494.5,348.4 495.4,350.0 496.3,348.7 497.1,351.4 498.0,353.5 498.9,353.1 499.7,355.3 500.6,356.6 501.5,357.6 502.3,359.8 503.2,360.4 504.0,362.0 504.9,363.7 505.8,364.8 506.6,364.9 507.5,365.7 508.4,365.4 509.2,368.7 510.1,366.8 511.0,369.9 511.8,370.5 512.7,371.1 513.6,371.2 514.4,372.9 515.3,369.2 516.1,369.9 517.0,371.8 517.9,375.0 518.7,371.4 519.6,374.5 520.5,374.4 521.3,374.8 522.2,375.4 523.1,375.7 523.9,376.0 524.8,376.3 525.7,377.0 526.5,377.5 527.4,376.0 528.2,377.6 529.1,377.6 530.0,377.0 530.8,380.9 531.7,379.7 532.6,380.2 533.4,381.4 534.3,378.8 535.2,381.9 536.0,381.3 536.9,381.3 537.8,380.8 538.6,380.6 539.5,383.5 540.3,382.1 541.2,384.4 542.1,382.9 542.9,383.7 543.8,381.7 544.7,384.7 545.5,385.2 546.4,385.6 547.3,385.8 548.1,384.1 549.0,383.2 549.9,386.5 550.7,385.0 551.6,386.1 552.4,387.5 553.3,386.5 554.2,385.8 555.0,386.6 555.9,385.8 556.8,388.3 557.6,384.3 558.5,386.7 559.4,390.0 560.2,386.5 561.1,388.2 562.0,389.3 562.8,388.6 563.7,387.7 564.5,387.9 565.4,391.6 566.3,386.9 567.1,389.0 568.0,392.3 568.9,390.5 569.7,389.9 570.6,393.0 571.5,389.4 572.3,390.5 573.2,389.2 574.1,387.4 574.9,392.6 575.8,387.6 576.6,391.0 577.5,391.4 578.4,389.8 579.2,389.9 580.1,393.8 581.0,392.3 581.8,395.1 582.7,391.8 583.6,391.7 584.4,392.2 585.3,393.1 586.2,394.3 587.0,393.7 587.9,395.6 588.7,395.1 589.6,394.5 590.5,394.3 591.3,392.0 592.2,393.0 593.1,396.5 593.9,397.2 594.8,394.1 595.7,397.3 596.5,393.0 597.4,395.0 598.3,396.4 599.1,395.7 600.0,397.2 600.8,395.7 601.7,397.7 602.6,397.7 603.4,397.2 604.3,394.6 605.2,394.8 606.0,397.8 606.9,397.0 607.8,395.7 608.6,396.3 609.5,395.0 610.4,395.2 611.2,396.2 612.1,395.2 612.9,396.9 613.8,399.1 614.7,398.8 615.5,395.0 616.4,396.4 617.3,397.4 618.1,398.1 619.0,394.4 619.9,399.2 620.7,396.4 621.6,398.1 622.5,397.3 623.3,396.2 624.2,400.6 625.1,400.4 625.9,397.9 626.8,399.4 627.6,400.0 628.5,401.3 629.4,400.0 630.2,398.8 631.1,397.3 632.0,397.5 632.8,395.7 633.7,399.0 634.6,399.0 635.4,397.4 636.3,398.1 637.2,399.4 638.0,397.8 638.9,402.7 639.7,398.1 640.6,398.6 641.5,396.8 642.3,399.7 643.2,402.1 644.1,400.7 644.9,399.0 645.8,398.4 646.7,399.7 647.5,400.4 648.4,399.1 649.3,397.7 650.1,397.6 651.0,401.0 651.8,403.8 652.7,400.6 653.6,402.2 654.4,401.1 655.3,400.0 656.2,402.6 657.0,400.4 657.9,400.5 658.8,399.5 659.6,399.2 660.5,396.9 661.4,402.1 662.2,404.8 663.1,400.4 663.9,399.7 664.8,402.9 665.7,403.4 666.5,403.4 667.4,398.2 668.3,400.5 669.1,402.8 670.0,399.5 670.9,405.6 671.7,404.3 672.6,400.7 673.5,400.0 674.3,401.7 675.2,402.6 676.0,406.9 676.9,399.7 677.8,401.3 678.6,402.2 679.5,402.2 680.4,402.4 681.2,404.1 682.1,404.8 683.0,401.7 683.8,405.3 684.7,402.0 685.6,403.0 686.4,404.4 687.3,403.8 688.1,406.2 689.0,399.5 689.9,405.5 690.7,402.8 691.6,402.5 692.5,407.5 693.3,403.8 694.2,402.9 695.1,402.5 695.9,404.4 696.8,403.6 697.7,404.6 698.5,407.5 699.4,405.4 700.2,406.4 701.1,402.7 702.0,405.9 702.8,402.6 703.7,404.0 704.6,404.8 705.4,403.9 706.3,407.5 707.2,404.6 708.0,404.3 708.9,403.8 709.8,408.8 710.6,405.4 711.5,406.7 712.3,406.3 713.2,404.5 714.1,404.3 714.9,405.1 715.8,405.5 716.7,406.1 717.5,406.9 718.4,408.8 719.3,407.5 720.1,405.3 721.0,404.6 721.9,405.9 722.7,408.7 723.6,407.4 724.4,408.4 725.3,408.4 726.2,404.8 727.0,405.6 727.9,406.6 728.8,405.2 729.6,405.5 730.5,408.0 731.4,406.9 732.2,404.3 733.1,408.9 734.0,402.5 734.8,409.6 735.7,407.6 736.5,408.5 737.4,405.7 738.3,407.1 739.1,404.5 740.0,409.1 740.9,409.5 741.7,408.6 742.6,406.4 743.5,404.7 744.3,407.3 745.2,407.9 746.1,406.7 746.9,406.6 747.8,406.5 748.6,409.5 749.5,410.9 750.4,408.3 751.2,408.5 752.1,408.1 753.0,406.7 753.8,406.2 754.7,405.2 755.6,408.3 756.4,406.3 757.3,409.5 758.2,405.0 759.0,408.9 759.9,408.4 760.7,410.6 761.6,403.4 762.5,407.2 763.3,407.9 764.2,409.0 765.1,408.2 765.9,409.8 766.8,406.4 767.7,408.2 768.5,410.2 769.4,405.7 770.3,409.1 771.1,411.8 772.0,411.7 772.8,410.9" fill="none" stroke="#231f20" stroke-width="1.35" stroke-linejoin="round" />
<polyline points="459.1,577.8 460.0,577.8 460.8,577.8 461.7,577.8 462.6,577.8 463.4,577.8 464.3,577.8 465.2,577.8 466.0,577.8 466.9,577.8 467.7,577.8 468.6,577.8 469.5,577.8 470.3,577.8 471.2,577.8 472.1,577.8 472.9,577.8 473.8,577.8 474.7,577.8 475.5,577.8 476.4,577.8 477.3,577.8 478.1,577.8 479.0,577.8 479.8,548.4 480.7,503.7 481.6,461.6 482.4,432.8 483.3,418.5 484.2,406.5 485.0,395.0 485.9,384.0 486.8,373.6 487.6,367.6 488.5,365.4 489.4,360.2 490.2,353.9 491.1,352.3 491.9,351.3 492.8,351.9 493.7,350.6 494.5,347.8 495.4,349.0 496.3,350.4 497.1,351.4 498.0,353.5 498.9,352.9 499.7,354.2 500.6,355.6 501.5,359.1 502.3,361.3 503.2,364.1 504.0,363.8 504.9,365.4 505.8,370.8 506.6,373.1 507.5,376.5 508.4,380.3 509.2,385.3 510.1,391.5 511.0,393.8 511.8,403.4 512.7,404.1 513.6,405.6 514.4,408.4 515.3,417.5 516.1,421.7 517.0,421.7 517.9,427.2 518.7,442.2 519.6,446.0 520.5,450.3 521.3,439.9 522.2,455.2 523.1,451.8 523.9,446.0 524.8,457.1 525.7,457.1 526.5,459.0 527.4,468.3 528.2,496.5 529.1,477.6 530.0,477.6 530.8,548.4 531.7,496.5 532.6,496.5 533.4,496.5 534.3,513.0 535.2,548.4 536.0,548.4 536.9,496.5 537.8,548.4 538.6,526.0 539.5,526.0 540.3,577.8" fill="none" stroke="#5868cc" stroke-width="1.3" stroke-linejoin="round" stroke-dasharray="1.8,1.3"/>
<path d="M542.08,572.80V526.03 M544.67,572.80V526.03 M545.53,572.80V526.03 M550.72,572.80V548.36 M551.58,572.80V548.36 M553.31,572.80V526.03 M556.77,572.80V548.36 M559.36,572.80V548.36 M565.41,572.80V548.36 M584.43,572.80V548.36 M593.93,572.80V548.36 M739.14,572.80V548.36" fill="none" stroke="#5868cc" stroke-width="1.3" stroke-dasharray="1.8,1.3"/>
</g>
<rect x="43.70" y="31.40" width="321.20" height="228.40" fill="none" stroke="#4a4a4a" stroke-width="1.45"/>
<path d="M43.70,257.50h-6.3 M43.70,234.98h-3.6 M43.70,221.81h-3.6 M43.70,212.47h-3.6 M43.70,205.22h-3.6 M43.70,199.29h-3.6 M43.70,194.29h-3.6 M43.70,189.95h-3.6 M43.70,186.12h-3.6 M43.70,182.70h-6.3 M43.70,160.18h-3.6 M43.70,147.01h-3.6 M43.70,137.67h-3.6 M43.70,130.42h-3.6 M43.70,124.49h-3.6 M43.70,119.49h-3.6 M43.70,115.15h-3.6 M43.70,111.32h-3.6 M43.70,107.90h-6.3 M43.70,85.38h-3.6 M43.70,72.21h-3.6 M43.70,62.87h-3.6 M43.70,55.62h-3.6 M43.70,49.69h-3.6 M43.70,44.69h-3.6 M43.70,40.35h-3.6 M43.70,36.52h-3.6 M43.70,33.10h-6.3 M46.40,259.80v7.0 M52.73,259.80v3.6 M59.05,259.80v3.6 M65.38,259.80v3.6 M71.70,259.80v3.6 M78.03,259.80v5.3 M84.36,259.80v3.6 M90.68,259.80v3.6 M97.01,259.80v3.6 M103.33,259.80v3.6 M109.66,259.80v7.0 M115.99,259.80v3.6 M122.31,259.80v3.6 M128.64,259.80v3.6 M134.96,259.80v3.6 M141.29,259.80v5.3 M147.62,259.80v3.6 M153.94,259.80v3.6 M160.27,259.80v3.6 M166.59,259.80v3.6 M172.92,259.80v7.0 M179.25,259.80v3.6 M185.57,259.80v3.6 M191.90,259.80v3.6 M198.22,259.80v3.6 M204.55,259.80v5.3 M210.88,259.80v3.6 M217.20,259.80v3.6 M223.53,259.80v3.6 M229.85,259.80v3.6 M236.18,259.80v7.0 M242.51,259.80v3.6 M248.83,259.80v3.6 M255.16,259.80v3.6 M261.48,259.80v3.6 M267.81,259.80v5.3 M274.14,259.80v3.6 M280.46,259.80v3.6 M286.79,259.80v3.6 M293.11,259.80v3.6 M299.44,259.80v7.0 M305.77,259.80v3.6 M312.09,259.80v3.6 M318.42,259.80v3.6 M324.74,259.80v3.6 M331.07,259.80v5.3 M337.40,259.80v3.6 M343.72,259.80v3.6 M350.05,259.80v3.6 M356.37,259.80v3.6 M362.70,259.80v7.0" stroke="#4a4a4a" stroke-width="1.35" fill="none"/>
<text x="0.70" y="38.00" font-size="14" text-anchor="start" >1,000</text>
<text x="12.40" y="112.80" font-size="14" text-anchor="start" >100</text>
<text x="20.15" y="187.60" font-size="14" text-anchor="start" >10</text>
<text x="28.10" y="262.40" font-size="14" text-anchor="start" >1</text>
<text x="163.85" y="295.80" font-size="14">Delay time (ns)</text>
<text transform="translate(13.00,144.00) rotate(-90)" x="0" y="0" font-size="14" text-anchor="middle">Counts</text>
<rect x="453.80" y="31.40" width="321.20" height="228.40" fill="none" stroke="#4a4a4a" stroke-width="1.45"/>
<path d="M453.80,257.50h-6.3 M453.80,234.98h-3.6 M453.80,221.81h-3.6 M453.80,212.47h-3.6 M453.80,205.22h-3.6 M453.80,199.29h-3.6 M453.80,194.29h-3.6 M453.80,189.95h-3.6 M453.80,186.12h-3.6 M453.80,182.70h-6.3 M453.80,160.18h-3.6 M453.80,147.01h-3.6 M453.80,137.67h-3.6 M453.80,130.42h-3.6 M453.80,124.49h-3.6 M453.80,119.49h-3.6 M453.80,115.15h-3.6 M453.80,111.32h-3.6 M453.80,107.90h-6.3 M453.80,85.38h-3.6 M453.80,72.21h-3.6 M453.80,62.87h-3.6 M453.80,55.62h-3.6 M453.80,49.69h-3.6 M453.80,44.69h-3.6 M453.80,40.35h-3.6 M453.80,36.52h-3.6 M453.80,33.10h-6.3 M456.50,259.80v7.0 M462.83,259.80v3.6 M469.15,259.80v3.6 M475.48,259.80v3.6 M481.80,259.80v3.6 M488.13,259.80v5.3 M494.46,259.80v3.6 M500.78,259.80v3.6 M507.11,259.80v3.6 M513.43,259.80v3.6 M519.76,259.80v7.0 M526.09,259.80v3.6 M532.41,259.80v3.6 M538.74,259.80v3.6 M545.06,259.80v3.6 M551.39,259.80v5.3 M557.72,259.80v3.6 M564.04,259.80v3.6 M570.37,259.80v3.6 M576.69,259.80v3.6 M583.02,259.80v7.0 M589.35,259.80v3.6 M595.67,259.80v3.6 M602.00,259.80v3.6 M608.32,259.80v3.6 M614.65,259.80v5.3 M620.98,259.80v3.6 M627.30,259.80v3.6 M633.63,259.80v3.6 M639.95,259.80v3.6 M646.28,259.80v7.0 M652.61,259.80v3.6 M658.93,259.80v3.6 M665.26,259.80v3.6 M671.58,259.80v3.6 M677.91,259.80v5.3 M684.24,259.80v3.6 M690.56,259.80v3.6 M696.89,259.80v3.6 M703.21,259.80v3.6 M709.54,259.80v7.0 M715.87,259.80v3.6 M722.19,259.80v3.6 M728.52,259.80v3.6 M734.84,259.80v3.6 M741.17,259.80v5.3 M747.50,259.80v3.6 M753.82,259.80v3.6 M760.15,259.80v3.6 M766.47,259.80v3.6 M772.80,259.80v7.0" stroke="#4a4a4a" stroke-width="1.35" fill="none"/>
<text x="410.80" y="38.00" font-size="14" text-anchor="start" >1,000</text>
<text x="422.50" y="112.80" font-size="14" text-anchor="start" >100</text>
<text x="430.25" y="187.60" font-size="14" text-anchor="start" >10</text>
<text x="438.20" y="262.40" font-size="14" text-anchor="start" >1</text>
<text x="573.95" y="295.80" font-size="14">Delay time (ns)</text>
<text transform="translate(423.00,143.80) rotate(-90)" x="0" y="0" font-size="14" text-anchor="middle">Counts</text>
<rect x="47.80" y="346.40" width="316.60" height="225.40" fill="none" stroke="#4a4a4a" stroke-width="1.45"/>
<path d="M47.80,570.70h-6.3 M47.80,548.36h-3.6 M47.80,535.30h-3.6 M47.80,526.03h-3.6 M47.80,518.84h-3.6 M47.80,512.96h-3.6 M47.80,507.99h-3.6 M47.80,503.69h-3.6 M47.80,499.90h-3.6 M47.80,496.50h-6.3 M47.80,474.16h-3.6 M47.80,461.10h-3.6 M47.80,451.83h-3.6 M47.80,444.64h-3.6 M47.80,438.76h-3.6 M47.80,433.79h-3.6 M47.80,429.49h-3.6 M47.80,425.70h-3.6 M47.80,422.30h-6.3 M47.80,399.96h-3.6 M47.80,386.90h-3.6 M47.80,377.63h-3.6 M47.80,370.44h-3.6 M47.80,364.56h-3.6 M47.80,359.59h-3.6 M47.80,355.29h-3.6 M47.80,351.50h-3.6 M47.80,348.10h-6.3 M49.00,571.80v5.2 M64.72,571.80v2.7 M80.43,571.80v2.7 M96.14,571.80v2.7 M111.86,571.80v2.7 M127.58,571.80v5.2 M143.29,571.80v2.7 M159.00,571.80v2.7 M174.72,571.80v2.7 M190.44,571.80v2.7 M206.15,571.80v5.2 M221.87,571.80v2.7 M237.58,571.80v2.7 M253.29,571.80v2.7 M269.01,571.80v2.7 M284.73,571.80v5.2 M300.44,571.80v2.7 M316.15,571.80v2.7 M331.87,571.80v2.7 M347.58,571.80v2.7 M363.30,571.80v5.2" stroke="#4a4a4a" stroke-width="1.35" fill="none"/>
<text x="5.00" y="353.00" font-size="14" text-anchor="start" >1,000</text>
<text x="16.70" y="427.20" font-size="14" text-anchor="start" >100</text>
<text x="24.45" y="501.40" font-size="14" text-anchor="start" >10</text>
<text x="32.40" y="575.60" font-size="14" text-anchor="start" >1</text>
<text x="163.85" y="607.30" font-size="14">Delay time (ns)</text>
<text transform="translate(11.20,450.80) rotate(-90)" x="0" y="0" font-size="14" text-anchor="middle">Counts</text>
<rect x="457.90" y="346.40" width="316.60" height="225.40" fill="none" stroke="#4a4a4a" stroke-width="1.45"/>
<path d="M457.90,570.70h-6.3 M457.90,548.36h-3.6 M457.90,535.30h-3.6 M457.90,526.03h-3.6 M457.90,518.84h-3.6 M457.90,512.96h-3.6 M457.90,507.99h-3.6 M457.90,503.69h-3.6 M457.90,499.90h-3.6 M457.90,496.50h-6.3 M457.90,474.16h-3.6 M457.90,461.10h-3.6 M457.90,451.83h-3.6 M457.90,444.64h-3.6 M457.90,438.76h-3.6 M457.90,433.79h-3.6 M457.90,429.49h-3.6 M457.90,425.70h-3.6 M457.90,422.30h-6.3 M457.90,399.96h-3.6 M457.90,386.90h-3.6 M457.90,377.63h-3.6 M457.90,370.44h-3.6 M457.90,364.56h-3.6 M457.90,359.59h-3.6 M457.90,355.29h-3.6 M457.90,351.50h-3.6 M457.90,348.10h-6.3 M459.10,571.80v5.2 M474.81,571.80v2.7 M490.53,571.80v2.7 M506.25,571.80v2.7 M521.96,571.80v2.7 M537.68,571.80v5.2 M553.39,571.80v2.7 M569.11,571.80v2.7 M584.82,571.80v2.7 M600.54,571.80v2.7 M616.25,571.80v5.2 M631.97,571.80v2.7 M647.68,571.80v2.7 M663.39,571.80v2.7 M679.11,571.80v2.7 M694.83,571.80v5.2 M710.54,571.80v2.7 M726.25,571.80v2.7 M741.97,571.80v2.7 M757.68,571.80v2.7 M773.40,571.80v5.2" stroke="#4a4a4a" stroke-width="1.35" fill="none"/>
<text x="414.20" y="353.00" font-size="14" text-anchor="start" >1,000</text>
<text x="425.90" y="427.20" font-size="14" text-anchor="start" >100</text>
<text x="433.65" y="501.40" font-size="14" text-anchor="start" >10</text>
<text x="441.60" y="575.60" font-size="14" text-anchor="start" >1</text>
<text x="573.95" y="607.30" font-size="14">Delay time (ns)</text>
<text transform="translate(420.90,450.80) rotate(-90)" x="0" y="0" font-size="14" text-anchor="middle">Counts</text>
<text x="47.10" y="278.40" font-size="14" text-anchor="middle" >0</text>
<text x="110.36" y="278.40" font-size="14" text-anchor="middle" >20</text>
<text x="173.62" y="278.40" font-size="14" text-anchor="middle" >40</text>
<text x="236.88" y="278.40" font-size="14" text-anchor="middle" >60</text>
<text x="300.14" y="278.40" font-size="14" text-anchor="middle" >80</text>
<text x="363.40" y="278.40" font-size="14" text-anchor="middle" >100</text>
<text x="457.20" y="278.40" font-size="14" text-anchor="middle" >0</text>
<text x="520.46" y="278.40" font-size="14" text-anchor="middle" >20</text>
<text x="583.72" y="278.40" font-size="14" text-anchor="middle" >40</text>
<text x="646.98" y="278.40" font-size="14" text-anchor="middle" >60</text>
<text x="710.24" y="278.40" font-size="14" text-anchor="middle" >80</text>
<text x="773.50" y="278.40" font-size="14" text-anchor="middle" >100</text>
<text x="49.70" y="591.40" font-size="14" text-anchor="middle" >0</text>
<text x="128.28" y="591.40" font-size="14" text-anchor="middle" >5</text>
<text x="206.85" y="591.40" font-size="14" text-anchor="middle" >10</text>
<text x="285.43" y="591.40" font-size="14" text-anchor="middle" >15</text>
<text x="364.00" y="591.40" font-size="14" text-anchor="middle" >20</text>
<text x="459.80" y="591.40" font-size="14" text-anchor="middle" >0</text>
<text x="538.38" y="591.40" font-size="14" text-anchor="middle" >5</text>
<text x="616.95" y="591.40" font-size="14" text-anchor="middle" >10</text>
<text x="695.53" y="591.40" font-size="14" text-anchor="middle" >15</text>
<text x="774.10" y="591.40" font-size="14" text-anchor="middle" >20</text>
<text x="11.10" y="13.00" font-size="16" text-anchor="start" >a</text>
<text x="424.10" y="12.80" font-size="16" text-anchor="start" >b</text>
<text x="10.70" y="328.20" font-size="16" text-anchor="start" >c</text>
<text x="423.90" y="327.80" font-size="16" text-anchor="start" >d</text>
<line x1="272.80" y1="43.40" x2="297.00" y2="43.40" stroke="#5db44c" stroke-width="1.3"/>
<line x1="272.80" y1="61.70" x2="297.00" y2="61.70" stroke="#2f6db8" stroke-width="1.3"/>
<line x1="272.80" y1="79.40" x2="297.00" y2="79.40" stroke="#231f20" stroke-width="1.3"/>
<line x1="272.80" y1="98.00" x2="297.00" y2="98.00" stroke="#d0332a" stroke-width="1.3"/>
<path d="M271.50,42.90H268.20Q266.20,42.90 266.20,44.90V60.40Q266.20,62.40 268.20,62.40H271.50M261.00,52.40H266.20" fill="none" stroke="#231f20" stroke-width="1.2"/>
<path d="M271.50,78.90H268.20Q266.20,78.90 266.20,80.90V96.30Q266.20,98.30 268.20,98.30H271.50M261.00,88.60H266.20" fill="none" stroke="#231f20" stroke-width="1.2"/>
<text x="174.12" y="47.90" font-size="14" text-anchor="start" >Conventional</text>
<text x="192.00" y="64.40" font-size="14" text-anchor="start" >heating</text>
<text x="183.70" y="92.50" font-size="14" text-anchor="start" >Microwave</text>
<text x="300.85" y="48.50" font-size="14" text-anchor="start" >H<tspan font-size="10.5">2</tspan>O</text>
<text x="300.85" y="84.10" font-size="14" text-anchor="start" >H<tspan font-size="10.5">2</tspan>O</text>
<text x="300.85" y="66.40" font-size="14" text-anchor="start" >PVSaq</text>
<text x="300.85" y="102.10" font-size="14" text-anchor="start" >PVSaq</text>
<line x1="266.00" y1="481.60" x2="290.20" y2="481.60" stroke="#5db44c" stroke-width="1.3"/>
<line x1="266.00" y1="499.90" x2="290.20" y2="499.90" stroke="#2f6db8" stroke-width="1.3"/>
<line x1="266.00" y1="517.60" x2="290.20" y2="517.60" stroke="#231f20" stroke-width="1.3"/>
<line x1="266.00" y1="536.20" x2="290.20" y2="536.20" stroke="#d0332a" stroke-width="1.3"/>
<path d="M264.70,481.10H261.40Q259.40,481.10 259.40,483.10V498.60Q259.40,500.60 261.40,500.60H264.70M254.20,490.60H259.40" fill="none" stroke="#231f20" stroke-width="1.2"/>
<path d="M264.70,517.10H261.40Q259.40,517.10 259.40,519.10V534.50Q259.40,536.50 261.40,536.50H264.70M254.20,526.80H259.40" fill="none" stroke="#231f20" stroke-width="1.2"/>
<text x="167.32" y="486.10" font-size="14" text-anchor="start" >Conventional</text>
<text x="185.20" y="502.60" font-size="14" text-anchor="start" >heating</text>
<text x="176.90" y="530.70" font-size="14" text-anchor="start" >Microwave</text>
<text x="294.05" y="486.70" font-size="14" text-anchor="start" >H<tspan font-size="10.5">2</tspan>O</text>
<text x="294.05" y="522.30" font-size="14" text-anchor="start" >H<tspan font-size="10.5">2</tspan>O</text>
<text x="294.05" y="504.60" font-size="14" text-anchor="start" >PVSaq</text>
<text x="294.05" y="540.30" font-size="14" text-anchor="start" >PVSaq</text>
<line x1="662.90" y1="470.50" x2="687.10" y2="470.50" stroke="#5db44c" stroke-width="1.3"/>
<line x1="662.90" y1="488.80" x2="687.10" y2="488.80" stroke="#2f6db8" stroke-width="1.3"/>
<line x1="662.90" y1="506.50" x2="687.10" y2="506.50" stroke="#231f20" stroke-width="1.3"/>
<line x1="662.90" y1="525.10" x2="687.10" y2="525.10" stroke="#d0332a" stroke-width="1.3"/>
<path d="M661.60,470.00H658.30Q656.30,470.00 656.30,472.00V487.50Q656.30,489.50 658.30,489.50H661.60M651.10,479.50H656.30" fill="none" stroke="#231f20" stroke-width="1.2"/>
<path d="M661.60,506.00H658.30Q656.30,506.00 656.30,508.00V523.40Q656.30,525.40 658.30,525.40H661.60M651.10,515.70H656.30" fill="none" stroke="#231f20" stroke-width="1.2"/>
<text x="564.23" y="475.00" font-size="14" text-anchor="start" >Conventional</text>
<text x="582.10" y="491.50" font-size="14" text-anchor="start" >heating</text>
<text x="573.80" y="519.60" font-size="14" text-anchor="start" >Microwave</text>
<text x="690.95" y="475.60" font-size="14" text-anchor="start" >H<tspan font-size="10.5">2</tspan>O</text>
<text x="690.95" y="511.20" font-size="14" text-anchor="start" >H<tspan font-size="10.5">2</tspan>O</text>
<text x="690.95" y="493.50" font-size="14" text-anchor="start" >DQSaq</text>
<text x="690.95" y="529.20" font-size="14" text-anchor="start" >DQSaq</text>
<line x1="634.7" y1="59.6" x2="655.0" y2="59.6" stroke="#de8c26" stroke-width="2.4"/>
<line x1="634.7" y1="76.1" x2="655.0" y2="76.1" stroke="#1b64af" stroke-width="2.4"/>
<line x1="634.7" y1="92.7" x2="655.0" y2="92.7" stroke="#a01e84" stroke-width="2.4"/>
<text x="658.15" y="62.90" font-size="14" text-anchor="start" >PVSaq 42 °C</text>
<text x="658.15" y="79.50" font-size="14" text-anchor="start" >PVSaq 52 °C</text>
<text x="658.15" y="96.10" font-size="14" text-anchor="start" >PVSaq 62 °C</text>
</svg></body></html>
